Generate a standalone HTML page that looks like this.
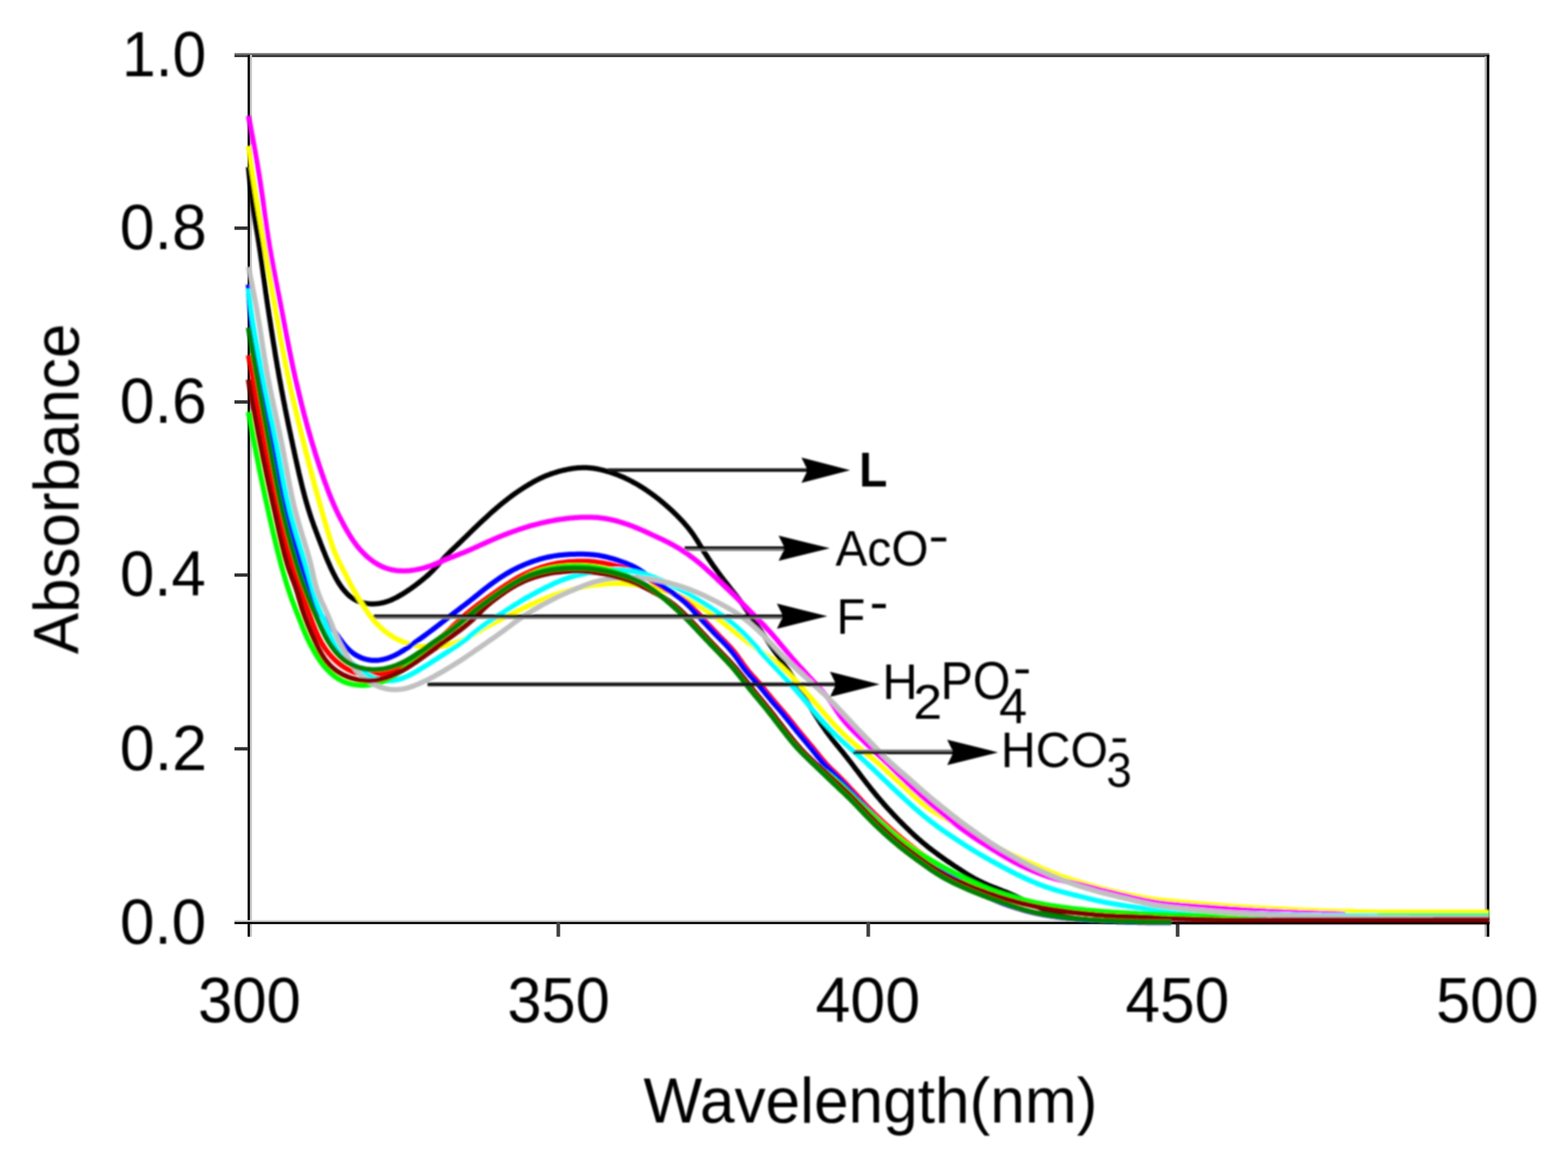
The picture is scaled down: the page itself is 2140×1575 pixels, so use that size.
<!DOCTYPE html>
<html lang="en"><head><meta charset="utf-8"><title>UV-vis absorbance spectra</title>
<style>
html,body{margin:0;padding:0;background:#fff;}
body{width:2140px;height:1575px;overflow:hidden;}
svg{display:block;}
text{font-family:"Liberation Sans",Arial,Helvetica,sans-serif;fill:#000;}
</style></head><body>
<svg width="2140" height="1575" viewBox="0 0 2140 1575" role="img" aria-label="UV-vis absorbance spectra of L with different anions">
<defs>
<filter id="soft" x="0" y="0" width="2140" height="1575" filterUnits="userSpaceOnUse"><feGaussianBlur stdDeviation="1.0"/></filter>
<filter id="soft2" x="0" y="0" width="2140" height="1575" filterUnits="userSpaceOnUse"><feGaussianBlur stdDeviation="0.55"/></filter>
</defs>
<rect width="2140" height="1575" fill="#fff"/>
<g id="axes" fill="none" stroke-linecap="butt" filter="url(#soft2)">
<line x1="320" y1="73.9" x2="2032.6" y2="73.9" stroke="#6e6e6e" stroke-width="3"/>
<line x1="320" y1="76.6" x2="2032.6" y2="76.6" stroke="#3a3a3a" stroke-width="3"/>
<line x1="342.4" y1="75" x2="342.4" y2="1278.5" stroke="#c8c8c8" stroke-width="3"/>
<line x1="339.5" y1="75" x2="339.5" y2="1278.5" stroke="#000" stroke-width="3.2"/>
<line x1="2027.7" y1="77" x2="2027.7" y2="1278.5" stroke="#b4b4b4" stroke-width="3"/>
<line x1="2030.9" y1="75" x2="2030.9" y2="1278.5" stroke="#000" stroke-width="3.4"/>
<line x1="320" y1="1257" x2="2032.6" y2="1257" stroke="#d0d0d0" stroke-width="2.6"/>
<line x1="320" y1="1259.7" x2="2032.6" y2="1259.7" stroke="#000" stroke-width="3"/>
<line x1="762" y1="1259" x2="762" y2="1278.5" stroke="#404040" stroke-width="5"/>
<line x1="1185" y1="1259" x2="1185" y2="1278.5" stroke="#404040" stroke-width="5"/>
<line x1="1607.2" y1="1259" x2="1607.2" y2="1278.5" stroke="#404040" stroke-width="5"/>
<line x1="320" y1="311.4" x2="339" y2="311.4" stroke="#303030" stroke-width="4.6"/>
<line x1="320" y1="548.6" x2="339" y2="548.6" stroke="#303030" stroke-width="4.6"/>
<line x1="320" y1="784.8" x2="339" y2="784.8" stroke="#303030" stroke-width="4.6"/>
<line x1="320" y1="1022" x2="339" y2="1022" stroke="#303030" stroke-width="4.6"/>
</g>
<g id="chart" filter="url(#soft)">
<g id="spectra" fill="none" stroke-width="7.0" stroke-linejoin="round" stroke-linecap="butt">
<path stroke="#000000" d="M339.0,228.0 L339.3,231.0 L339.6,234.0 L339.9,237.0 L340.2,239.9 L340.5,242.9 L340.9,245.9 L341.2,248.9 L341.5,251.9 L341.9,254.9 L342.2,257.8 L342.6,260.8 L342.9,263.8 L343.3,266.8 L343.7,269.7 L344.1,272.7 L344.5,275.7 L344.9,278.7 L345.3,281.6 L345.7,284.6 L346.1,287.6 L346.6,290.5 L347.0,293.5 L347.5,296.5 L347.9,299.4 L348.4,302.4 L348.9,305.4 L349.4,308.3 L349.9,311.3 L350.4,314.2 L350.9,317.2 L351.4,320.2 L351.9,323.1 L352.3,326.1 L352.8,329.0 L353.3,332.0 L353.7,335.0 L354.2,337.9 L354.6,340.9 L355.1,343.9 L355.5,346.8 L355.9,349.8 L356.3,352.8 L356.8,355.7 L357.2,358.7 L357.6,361.7 L358.0,364.7 L358.4,367.6 L358.8,370.6 L359.2,373.6 L359.6,376.5 L360.0,379.5 L360.5,382.5 L360.9,385.5 L361.3,388.4 L361.7,391.4 L362.1,394.4 L362.5,397.4 L362.9,400.3 L363.4,403.3 L363.8,406.3 L364.2,409.2 L364.6,412.2 L365.1,415.2 L365.5,418.1 L366.0,421.1 L366.4,424.1 L366.9,427.0 L367.3,430.0 L367.8,433.0 L368.2,435.9 L368.7,438.9 L369.1,441.9 L369.6,444.8 L370.0,447.8 L370.5,450.8 L371.0,453.7 L371.4,456.7 L371.9,459.7 L372.4,462.6 L372.8,465.6 L373.3,468.5 L373.8,471.5 L374.3,474.5 L374.8,477.4 L375.2,480.4 L375.7,483.3 L376.2,486.3 L376.7,489.3 L377.2,492.2 L377.7,495.2 L378.2,498.1 L378.7,501.1 L379.3,504.0 L379.8,507.0 L380.3,510.0 L380.8,512.9 L381.3,515.9 L381.9,518.8 L382.4,521.8 L383.0,524.7 L383.5,527.7 L384.0,530.6 L384.6,533.6 L385.2,536.5 L385.7,539.5 L386.3,542.4 L386.8,545.4 L387.4,548.3 L388.0,551.2 L388.6,554.2 L389.1,557.1 L389.7,560.1 L390.3,563.0 L390.9,566.0 L391.5,568.9 L392.1,571.8 L392.7,574.8 L393.3,577.7 L393.9,580.7 L394.5,583.6 L395.1,586.5 L395.8,589.5 L396.4,592.4 L397.0,595.3 L397.6,598.3 L398.3,601.2 L398.9,604.1 L399.5,607.1 L400.1,610.0 L400.8,612.9 L401.4,615.9 L402.0,618.8 L402.7,621.7 L403.3,624.7 L404.0,627.6 L404.6,630.6 L405.3,633.5 L405.9,636.4 L406.6,639.4 L407.3,642.3 L407.9,645.2 L408.6,648.1 L409.3,651.1 L410.0,654.0 L410.7,656.9 L411.4,659.8 L412.1,662.7 L412.8,665.6 L413.6,668.5 L414.3,671.5 L415.1,674.3 L415.8,677.2 L416.6,680.1 L417.4,683.0 L418.2,685.9 L419.1,688.8 L419.9,691.6 L420.8,694.5 L421.7,697.4 L422.6,700.2 L423.5,703.1 L424.4,705.9 L425.4,708.8 L426.4,711.6 L427.4,714.4 L428.4,717.3 L429.4,720.1 L430.5,722.9 L431.5,725.7 L432.6,728.5 L433.6,731.3 L434.7,734.1 L435.8,736.9 L436.9,739.7 L437.9,742.5 L439.0,745.3 L440.1,748.1 L441.2,750.9 L442.4,753.7 L443.5,756.5 L444.6,759.3 L445.8,762.1 L447.0,764.8 L448.1,767.6 L449.4,770.3 L450.6,773.1 L451.8,775.8 L453.1,778.5 L454.4,781.2 L455.8,783.9 L457.2,786.6 L458.6,789.3 L460.1,791.9 L461.6,794.5 L463.2,797.0 L464.9,799.5 L466.6,802.0 L468.5,804.4 L470.4,806.7 L472.4,808.9 L474.5,811.1 L476.7,813.1 L479.1,814.9 L481.5,816.7 L484.0,818.2 L486.6,819.6 L489.3,820.8 L492.1,821.8 L495.0,822.7 L497.9,823.3 L500.8,823.8 L503.8,824.1 L506.8,824.3 L509.8,824.3 L512.8,824.1 L515.8,823.8 L518.7,823.4 L521.7,822.8 L524.6,822.1 L527.5,821.2 L530.3,820.2 L533.1,819.2 L535.8,818.0 L538.6,816.7 L541.3,815.4 L543.9,813.9 L546.5,812.4 L549.1,810.9 L551.7,809.3 L554.2,807.7 L556.7,806.0 L559.2,804.3 L561.7,802.6 L564.1,800.8 L566.5,799.1 L568.9,797.3 L571.3,795.4 L573.7,793.6 L576.0,791.7 L578.4,789.8 L580.7,787.9 L582.9,786.0 L585.2,784.0 L587.3,781.9 L589.5,779.8 L591.6,777.7 L593.6,775.5 L595.6,773.3 L597.6,771.1 L599.6,768.8 L601.6,766.6 L603.6,764.3 L605.6,762.1 L607.6,759.9 L609.7,757.8 L611.8,755.6 L613.9,753.5 L616.1,751.4 L618.3,749.4 L620.4,747.3 L622.6,745.2 L624.8,743.1 L626.9,741.1 L629.1,739.0 L631.3,736.9 L633.4,734.8 L635.6,732.7 L637.7,730.6 L639.9,728.5 L642.0,726.4 L644.2,724.3 L646.3,722.2 L648.5,720.2 L650.6,718.1 L652.8,716.0 L655.0,713.9 L657.2,711.9 L659.4,709.8 L661.6,707.8 L663.8,705.8 L666.0,703.8 L668.2,701.7 L670.5,699.7 L672.7,697.7 L675.0,695.8 L677.2,693.8 L679.5,691.9 L681.8,689.9 L684.1,688.0 L686.4,686.1 L688.8,684.2 L691.1,682.4 L693.5,680.5 L695.9,678.7 L698.3,676.9 L700.7,675.2 L703.2,673.4 L705.7,671.7 L708.1,670.0 L710.6,668.4 L713.1,666.7 L715.7,665.1 L718.2,663.5 L720.8,661.9 L723.4,660.4 L725.9,658.9 L728.6,657.4 L731.2,655.9 L733.9,654.6 L736.5,653.2 L739.3,652.0 L742.0,650.7 L744.7,649.6 L747.5,648.5 L750.3,647.4 L753.2,646.4 L756.0,645.5 L758.9,644.6 L761.8,643.7 L764.7,642.9 L767.6,642.2 L770.5,641.5 L773.5,640.9 L776.4,640.3 L779.4,639.8 L782.3,639.3 L785.3,638.9 L788.3,638.6 L791.3,638.4 L794.3,638.3 L797.3,638.2 L800.3,638.3 L803.3,638.4 L806.2,638.7 L809.2,639.0 L812.2,639.5 L815.1,640.0 L818.0,640.6 L821.0,641.3 L823.9,642.0 L826.8,642.8 L829.7,643.7 L832.5,644.5 L835.4,645.5 L838.2,646.5 L841.1,647.5 L843.9,648.5 L846.7,649.7 L849.4,650.8 L852.2,652.0 L854.9,653.3 L857.6,654.6 L860.3,656.0 L862.9,657.4 L865.5,658.8 L868.2,660.3 L870.8,661.8 L873.3,663.4 L875.9,664.9 L878.4,666.5 L880.9,668.2 L883.4,669.9 L885.9,671.6 L888.4,673.3 L890.8,675.1 L893.2,676.8 L895.6,678.7 L898.0,680.5 L900.3,682.4 L902.6,684.3 L904.9,686.2 L907.2,688.2 L909.5,690.1 L911.7,692.1 L914.0,694.1 L916.2,696.2 L918.4,698.2 L920.5,700.3 L922.7,702.4 L924.8,704.5 L926.9,706.7 L929.0,708.8 L931.0,711.0 L933.1,713.2 L935.0,715.5 L937.0,717.8 L938.9,720.1 L940.8,722.4 L942.6,724.8 L944.4,727.2 L946.1,729.6 L947.8,732.1 L949.4,734.6 L951.1,737.1 L952.7,739.7 L954.2,742.2 L955.8,744.8 L957.4,747.3 L959.0,749.9 L960.5,752.5 L962.1,755.0 L963.8,757.5 L965.4,760.0 L967.0,762.5 L968.7,765.0 L970.4,767.5 L972.1,770.0 L973.8,772.4 L975.6,774.9 L977.3,777.3 L979.1,779.8 L980.8,782.2 L982.6,784.6 L984.4,787.0 L986.2,789.4 L988.0,791.8 L989.9,794.2 L991.7,796.5 L993.6,798.9 L995.4,801.2 L997.3,803.6 L999.2,805.9 L1001.1,808.3 L1002.9,810.6 L1004.8,813.0 L1006.6,815.3 L1008.4,817.7 L1010.2,820.1 L1012.0,822.6 L1013.7,825.0 L1015.4,827.5 L1017.1,829.9 L1018.8,832.4 L1020.5,834.9 L1022.2,837.4 L1023.8,839.9 L1025.5,842.4 L1027.2,844.8 L1028.9,847.3 L1030.6,849.8 L1032.3,852.2 L1034.0,854.7 L1035.8,857.2 L1037.5,859.6 L1039.2,862.1 L1040.9,864.6 L1042.6,867.0 L1044.3,869.5 L1045.9,872.0 L1047.6,874.5 L1049.3,877.0 L1050.9,879.5 L1052.6,882.0 L1054.3,884.5 L1056.0,886.9 L1057.7,889.4 L1059.4,891.9 L1061.1,894.3 L1062.9,896.7 L1064.6,899.2 L1066.4,901.6 L1068.2,904.0 L1069.9,906.5 L1071.7,908.9 L1073.4,911.4 L1075.1,913.8 L1076.8,916.3 L1078.4,918.8 L1080.0,921.3 L1081.6,923.9 L1083.2,926.4 L1084.8,929.0 L1086.3,931.6 L1087.8,934.2 L1089.3,936.7 L1090.8,939.3 L1092.4,941.9 L1093.9,944.5 L1095.4,947.1 L1096.9,949.7 L1098.4,952.3 L1099.9,954.9 L1101.5,957.5 L1103.0,960.0 L1104.6,962.6 L1106.1,965.2 L1107.7,967.7 L1109.3,970.3 L1110.9,972.8 L1112.5,975.4 L1114.1,977.9 L1115.7,980.4 L1117.3,982.9 L1119.0,985.5 L1120.6,988.0 L1122.3,990.4 L1124.0,992.9 L1125.7,995.4 L1127.4,997.8 L1129.2,1000.2 L1131.0,1002.6 L1132.8,1005.0 L1134.6,1007.4 L1136.5,1009.8 L1138.4,1012.1 L1140.2,1014.5 L1142.1,1016.8 L1144.0,1019.1 L1145.9,1021.4 L1147.8,1023.8 L1149.7,1026.1 L1151.6,1028.5 L1153.4,1030.8 L1155.3,1033.2 L1157.1,1035.5 L1159.0,1037.9 L1160.8,1040.2 L1162.7,1042.6 L1164.5,1045.0 L1166.3,1047.4 L1168.1,1049.8 L1170.0,1052.2 L1171.8,1054.5 L1173.6,1056.9 L1175.4,1059.3 L1177.2,1061.7 L1179.1,1064.1 L1180.9,1066.4 L1182.7,1068.8 L1184.6,1071.2 L1186.5,1073.5 L1188.3,1075.9 L1190.2,1078.2 L1192.1,1080.5 L1194.0,1082.9 L1195.9,1085.2 L1197.8,1087.5 L1199.8,1089.8 L1201.7,1092.1 L1203.7,1094.3 L1205.6,1096.6 L1207.6,1098.9 L1209.6,1101.1 L1211.6,1103.3 L1213.6,1105.5 L1215.7,1107.7 L1217.7,1109.9 L1219.8,1112.1 L1221.8,1114.3 L1223.9,1116.4 L1226.0,1118.6 L1228.1,1120.7 L1230.2,1122.9 L1232.4,1125.0 L1234.5,1127.1 L1236.6,1129.2 L1238.8,1131.3 L1240.9,1133.4 L1243.1,1135.5 L1245.3,1137.5 L1247.5,1139.6 L1249.7,1141.6 L1251.9,1143.6 L1254.2,1145.6 L1256.5,1147.5 L1258.7,1149.5 L1261.0,1151.4 L1263.4,1153.3 L1265.7,1155.2 L1268.0,1157.1 L1270.4,1158.9 L1272.8,1160.7 L1275.2,1162.5 L1277.6,1164.3 L1280.0,1166.1 L1282.4,1167.9 L1284.9,1169.6 L1287.3,1171.4 L1289.8,1173.1 L1292.2,1174.8 L1294.7,1176.5 L1297.2,1178.2 L1299.7,1179.9 L1302.2,1181.6 L1304.7,1183.2 L1307.2,1184.9 L1309.7,1186.5 L1312.2,1188.2 L1314.7,1189.8 L1317.2,1191.4 L1319.8,1193.0 L1322.3,1194.6 L1324.9,1196.1 L1327.5,1197.6 L1330.1,1199.0 L1332.8,1200.5 L1335.4,1201.8 L1338.1,1203.2 L1340.8,1204.5 L1343.5,1205.8 L1346.3,1207.0 L1349.0,1208.2 L1351.8,1209.3 L1354.6,1210.4 L1357.4,1211.5 L1360.2,1212.6 L1363.0,1213.7 L1365.8,1214.8 L1368.6,1215.9 L1371.4,1217.0 L1374.2,1218.1 L1376.9,1219.2 L1379.7,1220.4 L1382.4,1221.6 L1385.2,1222.8 L1387.9,1224.1 L1390.6,1225.4 L1393.3,1226.7 L1396.0,1228.0 L1398.6,1229.4 L1401.3,1230.7 L1404.0,1232.1 L1406.7,1233.4 L1409.4,1234.7 L1412.1,1236.0 L1414.9,1237.2 L1417.6,1238.4 L1420.4,1239.6 L1423.1,1240.8 L1425.9,1242.0 L1428.7,1243.1 L1431.5,1244.2 L1434.3,1245.2 L1437.1,1246.2 L1440.0,1247.1 L1442.8,1248.0 L1445.7,1248.9 L1448.6,1249.7 L1451.5,1250.4 L1454.4,1251.1 L1457.4,1251.7 L1460.3,1252.3 L1463.3,1252.8 L1466.2,1253.2 L1469.2,1253.7 L1472.2,1254.0 L1475.1,1254.4 L1478.1,1254.7 L1481.1,1254.9 L1484.1,1255.2 L1487.1,1255.4 L1490.1,1255.6 L1493.1,1255.8 L1496.1,1256.0 L1499.1,1256.1 L1502.1,1256.3 L1505.1,1256.5 L1508.1,1256.6 L1511.1,1256.7 L1514.1,1256.9 L1517.1,1257.0 L1520.1,1257.1 L1523.1,1257.2 L1526.1,1257.3 L1529.1,1257.5 L1532.1,1257.6 L1535.1,1257.7 L1538.1,1257.8 L1541.1,1257.9 L1544.1,1257.9 L1547.1,1258.0 L1550.1,1258.1 L1553.1,1258.2 L1556.1,1258.2 L1559.1,1258.3 L1562.2,1258.3 L1565.2,1258.4 L1568.2,1258.4 L1571.2,1258.5 L1574.2,1258.5 L1577.2,1258.5 L1580.1,1258.5 L1583.0,1258.5 L1585.7,1258.6 L1588.4,1258.6 L1591.0,1258.6 L1593.6,1258.6 L1596.1,1258.6 L1598.5,1258.6"/>
<path stroke="#ffff00" d="M339.0,199.0 L339.4,202.0 L339.8,204.9 L340.3,207.9 L340.7,210.9 L341.1,213.9 L341.6,216.8 L342.0,219.8 L342.4,222.8 L342.9,225.7 L343.3,228.7 L343.7,231.7 L344.2,234.6 L344.6,237.6 L345.1,240.6 L345.5,243.5 L346.0,246.5 L346.5,249.5 L346.9,252.4 L347.4,255.4 L347.9,258.3 L348.3,261.3 L348.8,264.3 L349.3,267.2 L349.8,270.2 L350.2,273.2 L350.7,276.1 L351.2,279.1 L351.7,282.0 L352.2,285.0 L352.7,287.9 L353.2,290.9 L353.7,293.9 L354.2,296.8 L354.8,299.8 L355.3,302.7 L355.8,305.7 L356.3,308.6 L356.8,311.6 L357.3,314.6 L357.8,317.5 L358.3,320.5 L358.9,323.4 L359.4,326.4 L359.9,329.3 L360.4,332.3 L360.9,335.2 L361.4,338.2 L361.9,341.2 L362.4,344.1 L362.9,347.1 L363.4,350.0 L363.9,353.0 L364.4,355.9 L364.9,358.9 L365.4,361.9 L365.9,364.8 L366.4,367.8 L367.0,370.7 L367.5,373.7 L368.0,376.6 L368.5,379.6 L369.0,382.6 L369.5,385.5 L370.0,388.5 L370.5,391.4 L371.0,394.4 L371.5,397.3 L372.1,400.3 L372.6,403.2 L373.1,406.2 L373.6,409.2 L374.1,412.1 L374.7,415.1 L375.2,418.0 L375.7,421.0 L376.2,423.9 L376.8,426.9 L377.3,429.8 L377.8,432.8 L378.4,435.7 L378.9,438.7 L379.4,441.6 L380.0,444.6 L380.5,447.6 L381.0,450.5 L381.6,453.5 L382.1,456.4 L382.6,459.4 L383.2,462.3 L383.7,465.3 L384.3,468.2 L384.8,471.2 L385.4,474.1 L385.9,477.1 L386.5,480.0 L387.0,483.0 L387.6,485.9 L388.2,488.9 L388.7,491.8 L389.3,494.7 L389.9,497.7 L390.5,500.6 L391.1,503.6 L391.7,506.5 L392.3,509.4 L392.9,512.4 L393.5,515.3 L394.1,518.2 L394.8,521.2 L395.4,524.1 L396.0,527.0 L396.7,530.0 L397.3,532.9 L398.0,535.8 L398.7,538.7 L399.3,541.7 L400.0,544.6 L400.7,547.5 L401.4,550.4 L402.0,553.4 L402.7,556.3 L403.4,559.2 L404.1,562.1 L404.8,565.0 L405.5,568.0 L406.2,570.9 L406.9,573.8 L407.6,576.7 L408.3,579.6 L409.0,582.5 L409.8,585.5 L410.5,588.4 L411.2,591.3 L411.9,594.2 L412.6,597.1 L413.4,600.0 L414.1,602.9 L414.8,605.8 L415.5,608.7 L416.3,611.7 L417.0,614.6 L417.7,617.5 L418.5,620.4 L419.2,623.3 L420.0,626.2 L420.7,629.1 L421.5,632.0 L422.2,634.9 L423.0,637.8 L423.7,640.7 L424.5,643.6 L425.3,646.5 L426.0,649.4 L426.8,652.3 L427.6,655.2 L428.4,658.1 L429.1,661.0 L429.9,663.9 L430.7,666.8 L431.5,669.7 L432.3,672.6 L433.1,675.5 L433.9,678.4 L434.7,681.3 L435.5,684.2 L436.3,687.1 L437.1,689.9 L437.9,692.8 L438.7,695.7 L439.5,698.6 L440.3,701.5 L441.2,704.4 L442.0,707.3 L442.8,710.1 L443.7,713.0 L444.5,715.9 L445.4,718.8 L446.2,721.7 L447.1,724.5 L448.0,727.4 L448.9,730.3 L449.7,733.2 L450.6,736.0 L451.6,738.9 L452.5,741.7 L453.4,744.6 L454.4,747.4 L455.5,750.2 L456.6,753.0 L457.7,755.8 L458.8,758.5 L460.1,761.3 L461.3,764.0 L462.7,766.6 L464.0,769.3 L465.4,772.0 L466.8,774.7 L468.1,777.3 L469.5,780.0 L470.9,782.7 L472.3,785.3 L473.6,788.0 L475.0,790.7 L476.4,793.3 L477.8,796.0 L479.1,798.7 L480.6,801.3 L482.0,803.9 L483.5,806.5 L485.0,809.1 L486.5,811.7 L488.0,814.3 L489.6,816.9 L491.2,819.4 L492.7,822.0 L494.3,824.6 L495.9,827.1 L497.5,829.6 L499.2,832.1 L500.9,834.6 L502.6,837.1 L504.4,839.5 L506.2,841.9 L508.0,844.2 L510.0,846.5 L511.9,848.8 L514.0,851.0 L516.1,853.1 L518.2,855.2 L520.4,857.3 L522.7,859.3 L525.0,861.2 L527.3,863.0 L529.8,864.8 L532.2,866.5 L534.7,868.2 L537.3,869.7 L539.9,871.2 L542.6,872.6 L545.3,873.9 L548.0,875.1 L550.8,876.2 L553.6,877.3 L556.4,878.2 L559.3,879.0 L562.2,879.8 L565.2,880.5 L568.1,881.0 L571.1,881.5 L574.1,881.9 L577.0,882.2 L580.0,882.5 L583.1,882.6 L586.1,882.7 L589.1,882.7 L592.1,882.7 L595.1,882.6 L598.1,882.4 L601.1,882.1 L604.0,881.7 L607.0,881.2 L609.9,880.7 L612.8,880.0 L615.7,879.2 L618.6,878.4 L621.4,877.4 L624.2,876.4 L627.0,875.3 L629.8,874.2 L632.5,872.9 L635.2,871.7 L637.9,870.4 L640.6,869.0 L643.3,867.6 L645.9,866.1 L648.5,864.6 L651.1,863.1 L653.7,861.6 L656.2,860.1 L658.8,858.5 L661.4,857.0 L664.0,855.5 L666.6,854.1 L669.3,852.6 L671.9,851.2 L674.6,849.8 L677.3,848.5 L679.9,847.1 L682.6,845.8 L685.3,844.4 L688.0,843.1 L690.7,841.7 L693.4,840.4 L696.0,839.0 L698.7,837.7 L701.4,836.4 L704.1,835.0 L706.8,833.7 L709.5,832.4 L712.2,831.1 L714.9,829.8 L717.6,828.5 L720.3,827.3 L723.1,826.0 L725.8,824.8 L728.5,823.6 L731.3,822.4 L734.0,821.2 L736.8,820.0 L739.6,818.8 L742.3,817.7 L745.1,816.6 L747.9,815.5 L750.7,814.4 L753.5,813.3 L756.3,812.3 L759.2,811.3 L762.0,810.4 L764.9,809.4 L767.7,808.5 L770.6,807.6 L773.5,806.8 L776.4,805.9 L779.2,805.1 L782.1,804.3 L785.0,803.6 L788.0,802.8 L790.9,802.1 L793.8,801.5 L796.7,800.9 L799.7,800.3 L802.6,799.8 L805.6,799.3 L808.6,798.8 L811.5,798.4 L814.5,798.1 L817.5,797.7 L820.5,797.4 L823.5,797.1 L826.5,796.9 L829.5,796.6 L832.4,796.5 L835.4,796.3 L838.4,796.2 L841.4,796.2 L844.4,796.2 L847.4,796.2 L850.4,796.4 L853.4,796.6 L856.4,796.8 L859.4,797.1 L862.4,797.4 L865.3,797.8 L868.3,798.2 L871.3,798.6 L874.3,799.0 L877.2,799.5 L880.2,800.0 L883.2,800.5 L886.1,801.0 L889.1,801.6 L892.0,802.2 L894.9,802.9 L897.8,803.6 L900.7,804.3 L903.6,805.1 L906.5,805.9 L909.4,806.8 L912.2,807.8 L915.1,808.7 L917.9,809.8 L920.7,810.8 L923.5,811.9 L926.3,813.0 L929.0,814.2 L931.8,815.4 L934.5,816.6 L937.2,817.9 L939.9,819.2 L942.6,820.6 L945.3,822.0 L947.9,823.4 L950.5,824.9 L953.1,826.4 L955.7,828.0 L958.2,829.5 L960.7,831.2 L963.2,832.8 L965.7,834.5 L968.2,836.2 L970.7,837.9 L973.1,839.7 L975.5,841.4 L977.9,843.2 L980.3,845.0 L982.7,846.8 L985.1,848.7 L987.5,850.5 L989.9,852.3 L992.2,854.2 L994.6,856.0 L996.9,857.9 L999.3,859.8 L1001.6,861.6 L1004.0,863.5 L1006.3,865.4 L1008.7,867.2 L1011.1,869.1 L1013.4,870.9 L1015.8,872.7 L1018.2,874.6 L1020.6,876.4 L1023.0,878.2 L1025.4,880.0 L1027.8,881.7 L1030.3,883.4 L1032.7,885.2 L1035.2,886.9 L1037.7,888.5 L1040.2,890.2 L1042.7,891.9 L1045.2,893.5 L1047.7,895.2 L1050.1,896.9 L1052.6,898.7 L1055.0,900.4 L1057.3,902.3 L1059.7,904.1 L1062.0,906.1 L1064.2,908.0 L1066.5,910.0 L1068.7,912.0 L1070.9,914.1 L1073.0,916.2 L1075.2,918.2 L1077.3,920.4 L1079.5,922.5 L1081.6,924.6 L1083.6,926.8 L1085.7,928.9 L1087.8,931.1 L1089.8,933.3 L1091.8,935.5 L1093.8,937.8 L1095.8,940.0 L1097.8,942.3 L1099.8,944.5 L1101.8,946.8 L1103.7,949.1 L1105.7,951.3 L1107.6,953.6 L1109.6,955.9 L1111.5,958.2 L1113.5,960.5 L1115.4,962.7 L1117.4,965.0 L1119.3,967.3 L1121.3,969.6 L1123.2,971.9 L1125.2,974.1 L1127.2,976.4 L1129.1,978.7 L1131.1,980.9 L1133.1,983.1 L1135.1,985.4 L1137.2,987.6 L1139.2,989.8 L1141.3,992.0 L1143.3,994.1 L1145.4,996.3 L1147.5,998.4 L1149.7,1000.5 L1151.8,1002.6 L1154.0,1004.7 L1156.2,1006.8 L1158.4,1008.8 L1160.6,1010.8 L1162.8,1012.8 L1165.1,1014.7 L1167.4,1016.7 L1169.7,1018.6 L1172.0,1020.5 L1174.4,1022.4 L1176.7,1024.2 L1179.1,1026.1 L1181.5,1027.9 L1183.8,1029.8 L1186.2,1031.6 L1188.6,1033.4 L1190.9,1035.3 L1193.3,1037.1 L1195.6,1039.0 L1197.9,1041.0 L1200.2,1042.9 L1202.5,1044.9 L1204.7,1046.9 L1206.9,1048.9 L1209.1,1050.9 L1211.3,1052.9 L1213.5,1055.0 L1215.7,1057.0 L1217.9,1059.1 L1220.1,1061.1 L1222.3,1063.1 L1224.6,1065.2 L1226.8,1067.2 L1229.0,1069.2 L1231.2,1071.2 L1233.4,1073.2 L1235.7,1075.3 L1237.9,1077.3 L1240.1,1079.3 L1242.3,1081.4 L1244.5,1083.4 L1246.7,1085.5 L1248.9,1087.6 L1251.1,1089.6 L1253.3,1091.6 L1255.5,1093.6 L1257.8,1095.6 L1260.1,1097.5 L1262.4,1099.4 L1264.7,1101.2 L1267.1,1103.0 L1269.6,1104.7 L1272.1,1106.3 L1274.6,1107.9 L1277.1,1109.4 L1279.7,1110.9 L1282.3,1112.4 L1285.0,1113.9 L1287.6,1115.3 L1290.3,1116.8 L1292.9,1118.2 L1295.5,1119.7 L1298.2,1121.2 L1300.8,1122.6 L1303.4,1124.2 L1306.0,1125.7 L1308.6,1127.2 L1311.1,1128.8 L1313.7,1130.3 L1316.3,1131.9 L1318.8,1133.5 L1321.4,1135.0 L1323.9,1136.6 L1326.5,1138.1 L1329.1,1139.7 L1331.7,1141.2 L1334.3,1142.7 L1336.9,1144.2 L1339.5,1145.6 L1342.1,1147.1 L1344.7,1148.5 L1347.4,1149.9 L1350.0,1151.3 L1352.7,1152.7 L1355.4,1154.0 L1358.1,1155.4 L1360.8,1156.7 L1363.5,1158.0 L1366.2,1159.3 L1368.9,1160.7 L1371.6,1162.0 L1374.3,1163.2 L1377.0,1164.5 L1379.7,1165.8 L1382.4,1167.1 L1385.2,1168.3 L1387.9,1169.6 L1390.6,1170.8 L1393.3,1172.1 L1396.1,1173.3 L1398.8,1174.5 L1401.5,1175.8 L1404.3,1177.0 L1407.0,1178.3 L1409.7,1179.5 L1412.5,1180.7 L1415.2,1182.0 L1417.9,1183.2 L1420.7,1184.4 L1423.4,1185.6 L1426.2,1186.9 L1428.9,1188.0 L1431.7,1189.2 L1434.4,1190.4 L1437.2,1191.5 L1440.0,1192.6 L1442.8,1193.7 L1445.6,1194.8 L1448.4,1195.8 L1451.2,1196.8 L1454.1,1197.8 L1456.9,1198.7 L1459.8,1199.6 L1462.7,1200.5 L1465.5,1201.4 L1468.4,1202.3 L1471.3,1203.1 L1474.1,1204.0 L1477.0,1204.8 L1479.9,1205.7 L1482.8,1206.5 L1485.7,1207.4 L1488.5,1208.2 L1491.4,1209.0 L1494.3,1209.9 L1497.2,1210.7 L1500.1,1211.4 L1503.0,1212.2 L1505.9,1213.0 L1508.8,1213.7 L1511.7,1214.4 L1514.6,1215.1 L1517.6,1215.8 L1520.5,1216.5 L1523.4,1217.2 L1526.3,1217.9 L1529.2,1218.6 L1532.2,1219.2 L1535.1,1219.8 L1538.0,1220.5 L1541.0,1221.1 L1543.9,1221.7 L1546.8,1222.3 L1549.8,1222.9 L1552.7,1223.5 L1555.7,1224.0 L1558.6,1224.6 L1561.6,1225.1 L1564.5,1225.6 L1567.5,1226.1 L1570.5,1226.6 L1573.4,1227.0 L1576.4,1227.4 L1579.4,1227.8 L1582.3,1228.2 L1585.3,1228.6 L1588.3,1228.9 L1591.3,1229.2 L1594.3,1229.5 L1597.3,1229.8 L1600.3,1230.1 L1603.2,1230.4 L1606.2,1230.6 L1609.2,1230.9 L1612.2,1231.2 L1615.2,1231.5 L1618.2,1231.7 L1621.2,1232.0 L1624.2,1232.3 L1627.1,1232.5 L1630.1,1232.8 L1633.1,1233.1 L1636.1,1233.3 L1639.1,1233.6 L1642.1,1233.8 L1645.1,1234.1 L1648.1,1234.3 L1651.1,1234.6 L1654.0,1234.8 L1657.0,1235.1 L1660.0,1235.3 L1663.0,1235.5 L1666.0,1235.8 L1669.0,1236.0 L1672.0,1236.2 L1675.0,1236.4 L1678.0,1236.6 L1681.0,1236.9 L1684.0,1237.1 L1687.0,1237.3 L1689.9,1237.5 L1692.9,1237.7 L1695.9,1237.8 L1698.9,1238.0 L1701.9,1238.2 L1704.9,1238.4 L1707.9,1238.6 L1710.9,1238.8 L1713.9,1238.9 L1716.9,1239.1 L1719.9,1239.3 L1722.9,1239.4 L1725.9,1239.6 L1728.9,1239.8 L1731.9,1239.9 L1734.9,1240.1 L1737.9,1240.2 L1740.9,1240.4 L1743.9,1240.5 L1746.9,1240.7 L1749.9,1240.8 L1752.9,1241.0 L1755.8,1241.1 L1758.8,1241.3 L1761.8,1241.4 L1764.8,1241.5 L1767.8,1241.7 L1770.8,1241.8 L1773.8,1241.9 L1776.8,1242.1 L1779.8,1242.2 L1782.8,1242.3 L1785.8,1242.5 L1788.8,1242.6 L1791.8,1242.7 L1794.8,1242.8 L1797.8,1242.9 L1800.8,1243.1 L1803.8,1243.2 L1806.8,1243.3 L1809.8,1243.3 L1812.8,1243.4 L1815.8,1243.5 L1818.8,1243.6 L1821.8,1243.7 L1824.8,1243.8 L1827.8,1243.8 L1830.8,1243.9 L1833.8,1244.0 L1836.8,1244.1 L1839.8,1244.1 L1842.8,1244.2 L1845.8,1244.3 L1848.8,1244.3 L1851.8,1244.4 L1854.8,1244.5 L1857.8,1244.5 L1860.8,1244.6 L1863.8,1244.6 L1866.8,1244.7 L1869.8,1244.7 L1872.8,1244.8 L1875.8,1244.8 L1878.8,1244.9 L1881.8,1244.9 L1884.8,1244.9 L1887.8,1244.9 L1890.8,1245.0 L1893.8,1245.0 L1896.8,1245.0 L1899.8,1245.0 L1902.8,1245.0 L1905.8,1245.0 L1908.8,1245.0 L1911.8,1245.0 L1914.8,1245.0 L1917.8,1245.0 L1920.8,1245.0 L1923.8,1245.0 L1926.8,1245.0 L1929.8,1245.0 L1932.8,1245.0 L1935.8,1245.0 L1938.8,1245.0 L1941.8,1245.0 L1944.8,1245.0 L1947.8,1245.0 L1950.8,1245.0 L1953.8,1245.0 L1956.8,1245.0 L1959.8,1245.0 L1962.8,1245.0 L1965.8,1245.0 L1968.8,1245.0 L1971.8,1245.0 L1974.8,1245.0 L1977.8,1245.0 L1980.8,1245.0 L1983.8,1245.0 L1986.8,1245.0 L1989.8,1245.0 L1992.8,1245.0 L1995.9,1245.0 L1998.9,1245.0 L2001.9,1245.0 L2004.9,1245.0 L2007.9,1245.0 L2010.9,1245.0 L2013.8,1245.0 L2016.7,1245.0 L2019.5,1245.0 L2022.2,1245.0 L2024.9,1245.0 L2027.5,1245.0 L2030.0,1245.0 L2032.5,1245.0"/>
<path stroke="#ff00ff" d="M339.0,158.0 L339.6,160.9 L340.1,163.9 L340.7,166.8 L341.3,169.8 L341.9,172.7 L342.4,175.7 L343.0,178.6 L343.5,181.6 L344.1,184.5 L344.6,187.5 L345.2,190.4 L345.7,193.4 L346.3,196.3 L346.8,199.3 L347.3,202.2 L347.9,205.2 L348.4,208.1 L348.9,211.1 L349.4,214.0 L349.9,217.0 L350.4,220.0 L351.0,222.9 L351.5,225.9 L351.9,228.8 L352.4,231.8 L352.9,234.8 L353.4,237.7 L353.9,240.7 L354.3,243.6 L354.8,246.6 L355.3,249.6 L355.7,252.5 L356.1,255.5 L356.6,258.5 L357.0,261.4 L357.4,264.4 L357.9,267.4 L358.3,270.3 L358.7,273.3 L359.1,276.3 L359.5,279.3 L359.9,282.2 L360.3,285.2 L360.7,288.2 L361.1,291.2 L361.5,294.1 L361.9,297.1 L362.3,300.1 L362.8,303.1 L363.2,306.0 L363.6,309.0 L364.0,312.0 L364.5,314.9 L364.9,317.9 L365.4,320.9 L365.8,323.8 L366.3,326.8 L366.8,329.7 L367.3,332.7 L367.7,335.7 L368.2,338.6 L368.8,341.6 L369.3,344.5 L369.8,347.5 L370.3,350.4 L370.9,353.4 L371.4,356.3 L371.9,359.3 L372.5,362.2 L373.0,365.2 L373.6,368.1 L374.2,371.1 L374.7,374.0 L375.3,377.0 L375.9,379.9 L376.4,382.9 L377.0,385.8 L377.6,388.8 L378.2,391.7 L378.7,394.6 L379.3,397.6 L379.9,400.5 L380.5,403.5 L381.1,406.4 L381.6,409.4 L382.2,412.3 L382.8,415.3 L383.4,418.2 L383.9,421.1 L384.5,424.1 L385.1,427.0 L385.6,430.0 L386.2,432.9 L386.8,435.9 L387.3,438.8 L387.9,441.8 L388.5,444.7 L389.0,447.7 L389.6,450.6 L390.2,453.6 L390.7,456.5 L391.3,459.5 L391.9,462.4 L392.4,465.3 L393.0,468.3 L393.6,471.2 L394.2,474.2 L394.8,477.1 L395.4,480.1 L396.0,483.0 L396.6,485.9 L397.2,488.9 L397.8,491.8 L398.4,494.8 L399.0,497.7 L399.6,500.6 L400.3,503.5 L400.9,506.5 L401.6,509.4 L402.2,512.3 L402.9,515.3 L403.5,518.2 L404.2,521.1 L404.9,524.0 L405.6,526.9 L406.3,529.9 L407.0,532.8 L407.7,535.7 L408.4,538.6 L409.1,541.5 L409.8,544.5 L410.5,547.4 L411.2,550.3 L412.0,553.2 L412.7,556.1 L413.4,559.0 L414.2,561.9 L414.9,564.8 L415.7,567.8 L416.5,570.7 L417.3,573.6 L418.0,576.4 L418.8,579.3 L419.6,582.2 L420.4,585.1 L421.2,588.0 L422.1,590.9 L422.9,593.8 L423.7,596.6 L424.5,599.5 L425.4,602.4 L426.2,605.3 L427.1,608.1 L428.0,611.0 L428.9,613.9 L429.7,616.7 L430.6,619.6 L431.5,622.5 L432.4,625.3 L433.4,628.2 L434.3,631.1 L435.2,633.9 L436.2,636.8 L437.1,639.6 L438.1,642.5 L439.0,645.3 L440.0,648.2 L441.0,651.0 L442.0,653.9 L443.0,656.7 L444.0,659.5 L445.1,662.3 L446.1,665.1 L447.2,668.0 L448.2,670.8 L449.3,673.6 L450.4,676.4 L451.5,679.1 L452.6,681.9 L453.8,684.7 L455.0,687.4 L456.2,690.2 L457.4,692.9 L458.6,695.6 L459.9,698.3 L461.2,701.0 L462.5,703.7 L463.9,706.4 L465.3,709.1 L466.7,711.7 L468.1,714.4 L469.5,717.0 L471.0,719.7 L472.4,722.3 L473.9,724.9 L475.5,727.5 L477.0,730.0 L478.6,732.6 L480.2,735.1 L481.9,737.6 L483.6,740.1 L485.4,742.5 L487.2,744.9 L489.1,747.2 L491.0,749.5 L493.0,751.8 L495.1,753.9 L497.2,756.1 L499.4,758.1 L501.6,760.2 L503.9,762.1 L506.3,764.0 L508.7,765.8 L511.1,767.5 L513.7,769.1 L516.3,770.6 L518.9,772.0 L521.6,773.3 L524.3,774.5 L527.1,775.5 L530.0,776.4 L532.9,777.2 L535.8,777.8 L538.7,778.3 L541.7,778.7 L544.7,779.0 L547.7,779.1 L550.7,779.2 L553.7,779.1 L556.7,778.9 L559.7,778.7 L562.7,778.3 L565.6,777.9 L568.6,777.4 L571.5,776.8 L574.5,776.1 L577.4,775.4 L580.3,774.6 L583.1,773.7 L586.0,772.8 L588.8,771.8 L591.6,770.7 L594.4,769.6 L597.1,768.5 L599.9,767.3 L602.7,766.1 L605.4,765.0 L608.2,763.8 L611.0,762.7 L613.8,761.6 L616.6,760.5 L619.4,759.4 L622.1,758.3 L624.9,757.2 L627.7,756.1 L630.5,755.0 L633.3,753.9 L636.1,752.7 L638.8,751.5 L641.6,750.4 L644.3,749.2 L647.1,747.9 L649.8,746.7 L652.5,745.5 L655.3,744.2 L658.0,743.0 L660.7,741.7 L663.5,740.5 L666.2,739.3 L668.9,738.1 L671.7,736.8 L674.4,735.7 L677.2,734.5 L680.0,733.3 L682.7,732.2 L685.5,731.1 L688.3,729.9 L691.1,728.9 L693.9,727.8 L696.7,726.7 L699.5,725.7 L702.4,724.7 L705.2,723.7 L708.0,722.7 L710.9,721.8 L713.7,720.9 L716.6,720.0 L719.5,719.1 L722.4,718.2 L725.2,717.4 L728.1,716.6 L731.0,715.8 L733.9,715.1 L736.8,714.3 L739.8,713.6 L742.7,713.0 L745.6,712.3 L748.5,711.7 L751.5,711.1 L754.4,710.6 L757.4,710.0 L760.4,709.5 L763.3,709.0 L766.3,708.6 L769.3,708.2 L772.2,707.8 L775.2,707.4 L778.2,707.1 L781.2,706.9 L784.2,706.6 L787.2,706.4 L790.2,706.2 L793.2,706.1 L796.2,706.0 L799.2,705.9 L802.2,705.9 L805.2,705.9 L808.2,706.0 L811.2,706.2 L814.2,706.3 L817.1,706.6 L820.1,706.9 L823.1,707.3 L826.1,707.7 L829.0,708.3 L831.9,708.8 L834.9,709.5 L837.8,710.2 L840.7,710.9 L843.6,711.7 L846.5,712.5 L849.4,713.4 L852.2,714.3 L855.1,715.3 L857.9,716.2 L860.7,717.3 L863.6,718.3 L866.3,719.4 L869.1,720.5 L871.9,721.7 L874.6,722.9 L877.4,724.1 L880.1,725.3 L882.9,726.6 L885.6,727.8 L888.3,729.1 L891.0,730.4 L893.8,731.6 L896.5,732.9 L899.2,734.2 L901.9,735.4 L904.6,736.7 L907.3,738.0 L910.0,739.4 L912.7,740.7 L915.3,742.1 L918.0,743.5 L920.6,745.0 L923.2,746.5 L925.8,748.0 L928.4,749.6 L930.9,751.2 L933.4,752.8 L935.9,754.5 L938.4,756.2 L940.8,757.9 L943.2,759.7 L945.7,761.5 L948.0,763.3 L950.4,765.1 L952.7,767.0 L955.0,768.9 L957.3,770.9 L959.6,772.8 L961.9,774.8 L964.1,776.8 L966.3,778.8 L968.5,780.8 L970.7,782.9 L972.9,784.9 L975.1,787.0 L977.3,789.0 L979.5,791.1 L981.7,793.2 L983.9,795.2 L986.0,797.3 L988.2,799.4 L990.4,801.4 L992.6,803.5 L994.7,805.6 L996.9,807.6 L999.1,809.7 L1001.2,811.8 L1003.4,813.9 L1005.5,816.0 L1007.6,818.1 L1009.8,820.2 L1011.9,822.3 L1014.0,824.5 L1016.1,826.6 L1018.3,828.7 L1020.4,830.8 L1022.5,833.0 L1024.6,835.1 L1026.7,837.2 L1028.8,839.4 L1030.9,841.5 L1033.0,843.6 L1035.1,845.8 L1037.2,847.9 L1039.3,850.1 L1041.4,852.2 L1043.5,854.4 L1045.5,856.6 L1047.6,858.8 L1049.6,861.0 L1051.6,863.2 L1053.6,865.5 L1055.6,867.7 L1057.5,870.0 L1059.5,872.3 L1061.4,874.6 L1063.3,876.9 L1065.2,879.2 L1067.1,881.5 L1069.0,883.8 L1071.0,886.1 L1072.9,888.5 L1074.8,890.8 L1076.7,893.0 L1078.7,895.3 L1080.6,897.6 L1082.6,899.8 L1084.6,902.1 L1086.6,904.3 L1088.6,906.6 L1090.6,908.8 L1092.6,911.0 L1094.7,913.2 L1096.7,915.4 L1098.7,917.6 L1100.8,919.9 L1102.8,922.1 L1104.8,924.3 L1106.9,926.5 L1108.9,928.7 L1111.0,930.9 L1113.0,933.1 L1115.0,935.3 L1117.1,937.5 L1119.1,939.7 L1121.1,942.0 L1123.1,944.2 L1125.0,946.5 L1127.0,948.8 L1128.8,951.1 L1130.7,953.5 L1132.5,955.9 L1134.2,958.3 L1135.9,960.8 L1137.6,963.2 L1139.2,965.7 L1140.9,968.3 L1142.5,970.8 L1144.2,973.2 L1145.9,975.7 L1147.7,978.1 L1149.5,980.5 L1151.3,982.8 L1153.2,985.2 L1155.2,987.4 L1157.2,989.6 L1159.2,991.8 L1161.3,994.0 L1163.4,996.2 L1165.5,998.3 L1167.6,1000.4 L1169.8,1002.5 L1171.9,1004.6 L1174.1,1006.7 L1176.2,1008.8 L1178.4,1010.9 L1180.5,1013.0 L1182.7,1015.1 L1184.9,1017.1 L1187.0,1019.2 L1189.2,1021.3 L1191.4,1023.4 L1193.6,1025.4 L1195.8,1027.5 L1197.9,1029.5 L1200.1,1031.6 L1202.3,1033.7 L1204.5,1035.7 L1206.6,1037.8 L1208.8,1039.9 L1211.0,1042.0 L1213.1,1044.0 L1215.3,1046.1 L1217.4,1048.2 L1219.5,1050.3 L1221.7,1052.5 L1223.8,1054.6 L1226.0,1056.7 L1228.1,1058.8 L1230.2,1060.9 L1232.4,1062.9 L1234.6,1065.0 L1236.7,1067.1 L1238.9,1069.2 L1241.1,1071.3 L1243.2,1073.3 L1245.4,1075.4 L1247.6,1077.4 L1249.8,1079.4 L1252.1,1081.4 L1254.3,1083.5 L1256.5,1085.5 L1258.8,1087.4 L1261.0,1089.4 L1263.3,1091.4 L1265.6,1093.3 L1267.9,1095.3 L1270.2,1097.2 L1272.4,1099.2 L1274.7,1101.1 L1277.1,1103.0 L1279.4,1104.9 L1281.7,1106.8 L1284.0,1108.7 L1286.3,1110.6 L1288.7,1112.5 L1291.0,1114.4 L1293.3,1116.3 L1295.7,1118.1 L1298.0,1120.0 L1300.4,1121.8 L1302.8,1123.7 L1305.2,1125.5 L1307.6,1127.3 L1310.0,1129.1 L1312.4,1130.9 L1314.8,1132.7 L1317.2,1134.4 L1319.7,1136.2 L1322.1,1137.9 L1324.6,1139.6 L1327.0,1141.3 L1329.5,1143.0 L1332.0,1144.7 L1334.5,1146.3 L1337.0,1148.0 L1339.5,1149.6 L1342.1,1151.2 L1344.6,1152.8 L1347.1,1154.4 L1349.7,1156.0 L1352.2,1157.6 L1354.8,1159.2 L1357.3,1160.8 L1359.9,1162.3 L1362.5,1163.9 L1365.0,1165.4 L1367.6,1167.0 L1370.2,1168.5 L1372.8,1170.0 L1375.4,1171.5 L1378.0,1173.0 L1380.6,1174.5 L1383.2,1175.9 L1385.9,1177.3 L1388.6,1178.7 L1391.2,1180.0 L1393.9,1181.3 L1396.6,1182.6 L1399.4,1183.9 L1402.1,1185.1 L1404.8,1186.3 L1407.6,1187.5 L1410.4,1188.7 L1413.1,1189.8 L1415.9,1191.0 L1418.7,1192.1 L1421.5,1193.1 L1424.3,1194.2 L1427.2,1195.2 L1430.0,1196.2 L1432.8,1197.1 L1435.7,1198.0 L1438.6,1198.9 L1441.4,1199.7 L1444.3,1200.5 L1447.2,1201.2 L1450.1,1201.9 L1453.1,1202.6 L1456.0,1203.3 L1458.9,1203.9 L1461.9,1204.5 L1464.8,1205.2 L1467.7,1205.8 L1470.6,1206.5 L1473.6,1207.2 L1476.5,1207.9 L1479.4,1208.6 L1482.3,1209.4 L1485.2,1210.1 L1488.1,1210.9 L1491.0,1211.6 L1493.9,1212.4 L1496.8,1213.1 L1499.7,1213.9 L1502.6,1214.6 L1505.6,1215.3 L1508.5,1216.0 L1511.4,1216.8 L1514.3,1217.5 L1517.2,1218.2 L1520.1,1218.9 L1523.0,1219.6 L1526.0,1220.3 L1528.9,1221.1 L1531.8,1221.8 L1534.7,1222.5 L1537.6,1223.2 L1540.5,1223.9 L1543.4,1224.6 L1546.4,1225.3 L1549.3,1226.0 L1552.2,1226.7 L1555.1,1227.3 L1558.1,1227.9 L1561.0,1228.6 L1563.9,1229.1 L1566.9,1229.7 L1569.8,1230.3 L1572.8,1230.8 L1575.8,1231.3 L1578.7,1231.7 L1581.7,1232.2 L1584.7,1232.6 L1587.6,1233.0 L1590.6,1233.3 L1593.6,1233.7 L1596.6,1234.0 L1599.6,1234.3 L1602.5,1234.6 L1605.5,1234.8 L1608.5,1235.1 L1611.5,1235.4 L1614.5,1235.6 L1617.5,1235.9 L1620.5,1236.1 L1623.5,1236.3 L1626.5,1236.6 L1629.5,1236.8 L1632.4,1237.0 L1635.4,1237.2 L1638.4,1237.5 L1641.4,1237.7 L1644.4,1237.9 L1647.4,1238.1 L1650.4,1238.3 L1653.4,1238.6 L1656.4,1238.8 L1659.4,1239.0 L1662.4,1239.2 L1665.4,1239.4 L1668.4,1239.6 L1671.3,1239.8 L1674.3,1240.0 L1677.3,1240.3 L1680.3,1240.4 L1683.3,1240.6 L1686.3,1240.8 L1689.3,1241.0 L1692.3,1241.2 L1695.3,1241.4 L1698.3,1241.6 L1701.3,1241.8 L1704.3,1241.9 L1707.3,1242.1 L1710.3,1242.3 L1713.3,1242.4 L1716.3,1242.6 L1719.3,1242.8 L1722.2,1242.9 L1725.2,1243.1 L1728.2,1243.3 L1731.2,1243.4 L1734.2,1243.6 L1737.2,1243.7 L1740.2,1243.9 L1743.2,1244.0 L1746.2,1244.2 L1749.2,1244.3 L1752.2,1244.4 L1755.2,1244.6 L1758.2,1244.7 L1761.2,1244.9 L1764.2,1245.0 L1767.2,1245.1 L1770.2,1245.2 L1773.2,1245.4 L1776.2,1245.5 L1779.2,1245.6 L1782.2,1245.7 L1785.2,1245.8 L1788.2,1245.9 L1791.2,1246.0 L1794.2,1246.2 L1797.2,1246.3 L1800.2,1246.4 L1803.2,1246.5 L1806.2,1246.6 L1809.2,1246.7 L1812.2,1246.8 L1815.2,1246.9 L1818.2,1247.0 L1821.1,1247.1 L1824.1,1247.2 L1827.1,1247.3 L1830.1,1247.4 L1833.0,1247.5 L1836.0,1247.6"/>
<path stroke="#ff0000" d="M339.0,484.9 L339.6,487.8 L340.2,490.8 L340.8,493.7 L341.4,496.7 L342.0,499.6 L342.5,502.5 L343.1,505.5 L343.7,508.4 L344.3,511.4 L344.8,514.3 L345.4,517.3 L345.9,520.2 L346.5,523.2 L347.0,526.1 L347.6,529.1 L348.1,532.0 L348.6,535.0 L349.2,537.9 L349.7,540.9 L350.2,543.8 L350.7,546.8 L351.3,549.7 L351.8,552.7 L352.3,555.7 L352.8,558.6 L353.4,561.6 L353.9,564.5 L354.4,567.5 L354.9,570.4 L355.5,573.4 L356.0,576.3 L356.5,579.3 L357.1,582.2 L357.6,585.2 L358.1,588.1 L358.7,591.1 L359.2,594.0 L359.8,597.0 L360.3,599.9 L360.9,602.9 L361.4,605.8 L362.0,608.8 L362.6,611.7 L363.1,614.7 L363.7,617.6 L364.2,620.6 L364.8,623.5 L365.4,626.5 L365.9,629.4 L366.5,632.4 L367.1,635.3 L367.6,638.3 L368.2,641.2 L368.8,644.2 L369.3,647.1 L369.9,650.0 L370.5,653.0 L371.1,655.9 L371.7,658.9 L372.3,661.8 L372.9,664.7 L373.5,667.7 L374.1,670.6 L374.7,673.6 L375.4,676.5 L376.0,679.4 L376.6,682.3 L377.3,685.3 L377.9,688.2 L378.6,691.1 L379.2,694.1 L379.9,697.0 L380.5,699.9 L381.2,702.8 L381.9,705.8 L382.5,708.7 L383.2,711.6 L383.9,714.6 L384.6,717.5 L385.3,720.4 L385.9,723.3 L386.6,726.3 L387.4,729.2 L388.1,732.1 L388.8,735.0 L389.5,737.9 L390.3,740.8 L391.0,743.8 L391.7,746.7 L392.5,749.6 L393.3,752.5 L394.1,755.4 L394.8,758.3 L395.7,761.1 L396.5,764.0 L397.3,766.9 L398.2,769.8 L399.0,772.6 L399.9,775.5 L400.8,778.3 L401.8,781.2 L402.7,784.0 L403.7,786.9 L404.7,789.7 L405.7,792.5 L406.8,795.3 L407.8,798.1 L408.8,800.9 L409.9,803.8 L410.9,806.6 L411.9,809.4 L412.9,812.2 L413.9,815.1 L414.9,817.9 L415.9,820.7 L416.9,823.5 L417.9,826.4 L418.9,829.2 L420.0,832.0 L421.0,834.9 L422.0,837.7 L423.0,840.5 L424.0,843.3 L425.1,846.1 L426.1,849.0 L427.2,851.8 L428.3,854.6 L429.4,857.4 L430.6,860.1 L431.7,862.9 L433.0,865.6 L434.2,868.4 L435.5,871.1 L436.9,873.7 L438.3,876.4 L439.8,879.0 L441.4,881.5 L443.0,884.0 L444.7,886.5 L446.5,888.9 L448.4,891.3 L450.3,893.6 L452.3,895.8 L454.4,898.0 L456.5,900.1 L458.7,902.2 L461.0,904.1 L463.3,906.1 L465.7,907.9 L468.2,909.6 L470.7,911.3 L473.3,912.8 L475.9,914.2 L478.6,915.5 L481.3,916.6 L484.1,917.6 L487.0,918.5 L489.9,919.2 L492.8,919.7 L495.8,920.2 L498.7,920.5 L501.7,920.6 L504.7,920.7 L507.8,920.7 L510.8,920.6 L513.7,920.3 L516.7,920.0 L519.7,919.5 L522.7,919.0 L525.6,918.3 L528.5,917.6 L531.4,916.7 L534.2,915.8 L537.1,914.8 L539.8,913.7 L542.6,912.5 L545.3,911.3 L548.0,909.9 L550.7,908.5 L553.3,907.1 L555.9,905.6 L558.5,904.0 L561.0,902.4 L563.6,900.8 L566.1,899.1 L568.5,897.4 L571.0,895.7 L573.4,893.9 L575.9,892.2 L578.2,890.3 L580.6,888.5 L583.0,886.6 L585.3,884.8 L587.6,882.8 L589.9,880.9 L592.2,878.9 L594.4,877.0 L596.7,875.0 L598.9,873.0 L601.1,870.9 L603.3,868.9 L605.5,866.8 L607.7,864.8 L609.9,862.7 L612.0,860.6 L614.2,858.6 L616.4,856.5 L618.5,854.4 L620.7,852.3 L622.9,850.3 L625.1,848.2 L627.3,846.2 L629.5,844.2 L631.7,842.2 L634.0,840.2 L636.2,838.2 L638.5,836.3 L640.8,834.3 L643.2,832.4 L645.5,830.6 L647.9,828.7 L650.2,826.9 L652.6,825.1 L655.1,823.3 L657.5,821.6 L659.9,819.8 L662.4,818.1 L664.8,816.3 L667.2,814.6 L669.7,812.9 L672.1,811.1 L674.6,809.4 L677.1,807.7 L679.5,805.9 L682.0,804.2 L684.5,802.5 L687.0,800.8 L689.4,799.2 L691.9,797.5 L694.5,795.9 L697.0,794.3 L699.5,792.7 L702.1,791.1 L704.7,789.6 L707.3,788.1 L709.9,786.7 L712.6,785.3 L715.3,783.9 L718.0,782.6 L720.7,781.4 L723.4,780.2 L726.2,779.0 L729.0,777.9 L731.8,776.9 L734.6,775.8 L737.5,774.9 L740.3,773.9 L743.2,773.0 L746.1,772.2 L749.0,771.4 L751.9,770.7 L754.8,770.0 L757.8,769.4 L760.7,768.8 L763.7,768.3 L766.6,767.9 L769.6,767.5 L772.6,767.1 L775.6,766.8 L778.6,766.6 L781.6,766.4 L784.6,766.2 L787.6,766.1 L790.6,766.0 L793.6,766.0 L796.6,766.0 L799.6,766.0 L802.6,766.1 L805.5,766.3 L808.5,766.5 L811.5,766.8 L814.5,767.2 L817.5,767.6 L820.4,768.0 L823.4,768.5 L826.3,769.1 L829.3,769.7 L832.2,770.3 L835.2,770.9 L838.1,771.6 L841.0,772.3 L844.0,773.0 L846.9,773.7 L849.8,774.5 L852.7,775.3 L855.6,776.1 L858.4,777.0 L861.2,778.0 L864.0,779.0 L866.7,780.2 L869.5,781.4 L872.1,782.7 L874.8,784.1 L877.4,785.5 L880.0,787.0 L882.6,788.6 L885.2,790.1 L887.7,791.7 L890.3,793.3 L892.9,794.9 L895.4,796.4 L898.0,798.0 L900.6,799.5 L903.2,801.0 L905.8,802.6 L908.4,804.1 L911.0,805.6 L913.7,807.0 L916.3,808.5 L918.9,810.0 L921.5,811.5 L924.1,813.0 L926.7,814.6 L929.2,816.2 L931.7,817.8 L934.1,819.5 L936.5,821.3 L938.8,823.1 L941.0,825.1 L943.2,827.1 L945.4,829.1 L947.5,831.3 L949.5,833.4 L951.6,835.6 L953.6,837.9 L955.6,840.1 L957.6,842.4 L959.7,844.6 L961.7,846.8 L963.7,849.1 L965.8,851.3 L967.8,853.5 L969.9,855.7 L972.0,857.8 L974.0,860.0 L976.1,862.2 L978.2,864.3 L980.3,866.5 L982.4,868.6 L984.5,870.8 L986.6,872.9 L988.7,875.0 L990.8,877.2 L992.9,879.4 L995.0,881.5 L997.0,883.7 L999.0,886.0 L1000.9,888.3 L1002.8,890.6 L1004.7,892.9 L1006.5,895.3 L1008.2,897.7 L1010.0,900.2 L1011.7,902.6 L1013.4,905.1 L1015.1,907.5 L1016.9,909.9 L1018.7,912.3 L1020.5,914.7 L1022.4,917.0 L1024.4,919.3 L1026.3,921.5 L1028.3,923.7 L1030.4,925.9 L1032.4,928.2 L1034.4,930.4 L1036.4,932.6 L1038.3,934.9 L1040.2,937.2 L1042.2,939.5 L1044.0,941.8 L1045.9,944.2 L1047.8,946.5 L1049.7,948.8 L1051.6,951.1 L1053.5,953.5 L1055.5,955.7 L1057.4,958.0 L1059.4,960.3 L1061.3,962.6 L1063.3,964.8 L1065.3,967.1 L1067.2,969.4 L1069.2,971.6 L1071.1,973.9 L1073.0,976.2 L1075.0,978.5 L1076.9,980.9 L1078.7,983.2 L1080.6,985.5 L1082.5,987.9 L1084.3,990.2 L1086.2,992.6 L1088.1,994.9 L1090.0,997.3 L1091.9,999.6 L1093.8,1001.9 L1095.7,1004.2 L1097.6,1006.5 L1099.5,1008.8 L1101.5,1011.1 L1103.4,1013.4 L1105.3,1015.7 L1107.3,1018.0 L1109.2,1020.3 L1111.1,1022.7 L1112.9,1025.0 L1114.8,1027.3 L1116.7,1029.7 L1118.5,1032.0 L1120.4,1034.3 L1122.3,1036.6 L1124.3,1038.9 L1126.3,1041.1 L1128.3,1043.3 L1130.4,1045.5 L1132.5,1047.6 L1134.6,1049.7 L1136.8,1051.8 L1138.9,1053.9 L1141.1,1055.9 L1143.2,1058.0 L1145.4,1060.1 L1147.5,1062.3 L1149.6,1064.4 L1151.7,1066.6 L1153.8,1068.7 L1155.8,1070.9 L1157.9,1073.1 L1159.9,1075.3 L1162.0,1077.5 L1164.0,1079.7 L1166.0,1081.9 L1168.1,1084.1 L1170.1,1086.3 L1172.1,1088.5 L1174.2,1090.7 L1176.2,1092.9 L1178.3,1095.1 L1180.3,1097.3 L1182.4,1099.5 L1184.5,1101.6 L1186.5,1103.8 L1188.7,1105.9 L1190.8,1108.0 L1192.9,1110.2 L1195.1,1112.3 L1197.2,1114.3 L1199.4,1116.4 L1201.6,1118.5 L1203.7,1120.5 L1205.9,1122.6 L1208.1,1124.6 L1210.4,1126.6 L1212.6,1128.6 L1214.8,1130.7 L1217.1,1132.7 L1219.3,1134.6 L1221.6,1136.6 L1223.8,1138.6 L1226.1,1140.5 L1228.4,1142.5 L1230.7,1144.4 L1233.0,1146.3 L1235.3,1148.2 L1237.7,1150.1 L1240.0,1152.0 L1242.4,1153.8 L1244.7,1155.7 L1247.1,1157.5 L1249.5,1159.4 L1251.8,1161.2 L1254.2,1163.0 L1256.6,1164.8 L1259.0,1166.6 L1261.4,1168.4 L1263.8,1170.2 L1266.3,1171.9 L1268.7,1173.7 L1271.2,1175.4 L1273.7,1177.1 L1276.2,1178.7 L1278.7,1180.3 L1281.2,1181.9 L1283.8,1183.5 L1286.4,1185.1 L1288.9,1186.6 L1291.5,1188.1 L1294.1,1189.6 L1296.7,1191.2 L1299.3,1192.7 L1301.8,1194.2 L1304.4,1195.8 L1307.0,1197.4 L1309.5,1198.9 L1312.1,1200.5 L1314.6,1202.1 L1317.1,1203.7 L1319.6,1205.4 L1322.2,1207.0 L1324.7,1208.6 L1327.2,1210.3 L1329.7,1211.9 L1332.2,1213.6 L1334.7,1215.2 L1337.3,1216.8 L1339.8,1218.4 L1342.4,1220.0 L1345.0,1221.5 L1347.6,1223.0 L1350.2,1224.5 L1352.8,1225.9 L1355.5,1227.2 L1358.2,1228.5 L1360.9,1229.7 L1363.7,1230.9 L1366.4,1232.0 L1369.2,1233.1 L1372.1,1234.1 L1374.9,1235.1 L1377.7,1236.1 L1380.6,1237.0 L1383.4,1238.0 L1386.3,1238.9 L1389.2,1239.8 L1392.1,1240.6 L1394.9,1241.5 L1397.8,1242.3 L1400.7,1243.1 L1403.6,1243.9 L1406.5,1244.6 L1409.4,1245.3 L1412.4,1246.0 L1415.3,1246.6 L1418.2,1247.2 L1421.2,1247.8 L1424.1,1248.3 L1427.1,1248.9 L1430.0,1249.4 L1433.0,1249.9 L1436.0,1250.3 L1438.9,1250.8 L1441.9,1251.2 L1444.9,1251.6 L1447.8,1252.0 L1450.8,1252.4 L1453.8,1252.8 L1456.8,1253.1 L1459.8,1253.4 L1462.7,1253.7 L1465.7,1254.0 L1468.7,1254.3 L1471.7,1254.6 L1474.7,1254.9 L1477.7,1255.1 L1480.7,1255.3 L1483.7,1255.6 L1486.7,1255.8 L1489.7,1256.0 L1492.6,1256.2 L1495.6,1256.4 L1498.6,1256.6 L1501.6,1256.7 L1504.6,1256.9 L1507.6,1257.1 L1510.6,1257.2 L1513.6,1257.3 L1516.6,1257.5 L1519.6,1257.6 L1522.6,1257.7 L1525.6,1257.8 L1528.6,1257.9 L1531.6,1258.0 L1534.6,1258.2 L1537.6,1258.2 L1540.6,1258.3 L1543.6,1258.4 L1546.6,1258.5 L1549.6,1258.6 L1552.6,1258.7 L1555.6,1258.7 L1558.7,1258.8 L1561.7,1258.8 L1564.7,1258.9 L1567.7,1258.9 L1570.7,1258.9 L1573.7,1258.9 L1576.7,1259.0 L1579.6,1259.0 L1582.5,1259.0 L1585.3,1259.0 L1588.1,1259.0 L1590.8,1259.0 L1593.4,1259.0 L1596.0,1259.0 L1598.5,1259.0"/>
<path stroke="#0000ff" d="M339.0,388.3 L339.1,391.3 L339.3,394.3 L339.4,397.3 L339.6,400.3 L339.8,403.3 L339.9,406.3 L340.1,409.3 L340.3,412.3 L340.5,415.3 L340.8,418.2 L341.0,421.2 L341.3,424.2 L341.6,427.2 L341.9,430.2 L342.2,433.1 L342.6,436.1 L343.0,439.1 L343.4,442.1 L343.8,445.0 L344.2,448.0 L344.6,451.0 L345.1,453.9 L345.6,456.9 L346.1,459.9 L346.6,462.8 L347.1,465.8 L347.6,468.7 L348.1,471.7 L348.6,474.7 L349.2,477.6 L349.7,480.6 L350.2,483.5 L350.8,486.5 L351.3,489.4 L351.9,492.4 L352.4,495.4 L352.9,498.3 L353.4,501.3 L354.0,504.2 L354.5,507.2 L355.0,510.1 L355.5,513.1 L356.1,516.1 L356.6,519.0 L357.1,522.0 L357.6,524.9 L358.1,527.9 L358.7,530.8 L359.2,533.8 L359.7,536.7 L360.3,539.7 L360.8,542.6 L361.4,545.6 L361.9,548.5 L362.5,551.5 L363.0,554.4 L363.6,557.4 L364.1,560.3 L364.7,563.3 L365.3,566.2 L365.8,569.2 L366.4,572.1 L367.0,575.1 L367.5,578.0 L368.1,580.9 L368.7,583.9 L369.2,586.8 L369.8,589.8 L370.3,592.7 L370.9,595.7 L371.5,598.6 L372.0,601.6 L372.6,604.5 L373.1,607.5 L373.7,610.4 L374.2,613.4 L374.8,616.3 L375.3,619.3 L375.9,622.2 L376.4,625.2 L377.0,628.1 L377.5,631.1 L378.0,634.0 L378.6,637.0 L379.1,640.0 L379.7,642.9 L380.2,645.9 L380.8,648.8 L381.4,651.8 L381.9,654.7 L382.5,657.6 L383.1,660.6 L383.6,663.5 L384.2,666.5 L384.8,669.4 L385.4,672.3 L386.1,675.3 L386.7,678.2 L387.3,681.1 L388.0,684.1 L388.6,687.0 L389.3,689.9 L390.0,692.8 L390.7,695.7 L391.4,698.7 L392.1,701.6 L392.8,704.5 L393.5,707.4 L394.3,710.3 L395.0,713.2 L395.8,716.1 L396.5,719.0 L397.3,721.9 L398.1,724.8 L398.9,727.7 L399.7,730.6 L400.5,733.5 L401.3,736.4 L402.2,739.2 L403.0,742.1 L403.8,745.0 L404.7,747.9 L405.5,750.8 L406.4,753.7 L407.3,756.5 L408.2,759.4 L409.0,762.3 L409.9,765.1 L410.8,768.0 L411.7,770.9 L412.6,773.7 L413.6,776.6 L414.5,779.4 L415.5,782.3 L416.4,785.1 L417.4,787.9 L418.4,790.8 L419.3,793.6 L420.3,796.5 L421.3,799.3 L422.3,802.1 L423.2,805.0 L424.2,807.8 L425.2,810.7 L426.2,813.5 L427.2,816.4 L428.2,819.2 L429.3,822.0 L430.4,824.7 L431.6,827.4 L432.9,830.1 L434.3,832.7 L435.8,835.3 L437.4,837.7 L439.1,840.2 L440.9,842.6 L442.8,844.9 L444.7,847.2 L446.6,849.5 L448.6,851.8 L450.5,854.2 L452.4,856.5 L454.2,858.9 L456.1,861.2 L457.9,863.7 L459.6,866.1 L461.4,868.5 L463.1,871.0 L464.9,873.4 L466.7,875.9 L468.5,878.2 L470.4,880.6 L472.4,882.8 L474.5,885.0 L476.6,887.1 L478.9,889.1 L481.2,891.0 L483.6,892.7 L486.2,894.3 L488.8,895.7 L491.5,897.0 L494.2,898.2 L497.0,899.1 L499.9,899.9 L502.8,900.5 L505.8,901.0 L508.7,901.2 L511.7,901.3 L514.7,901.2 L517.6,900.9 L520.6,900.5 L523.5,899.9 L526.4,899.1 L529.3,898.3 L532.1,897.2 L534.9,896.1 L537.6,894.9 L540.3,893.6 L543.0,892.2 L545.6,890.7 L548.2,889.1 L550.8,887.6 L553.3,885.9 L555.8,884.3 L558.3,882.6 L560.7,880.8 L563.2,879.1 L565.7,877.4 L568.1,875.6 L570.5,873.9 L573.0,872.1 L575.4,870.4 L577.8,868.6 L580.3,866.8 L582.7,865.0 L585.1,863.3 L587.5,861.5 L589.9,859.7 L592.3,857.9 L594.7,856.0 L597.1,854.2 L599.4,852.4 L601.8,850.6 L604.2,848.7 L606.5,846.9 L608.9,845.0 L611.2,843.2 L613.6,841.3 L616.0,839.5 L618.3,837.6 L620.7,835.8 L623.1,834.0 L625.5,832.2 L627.9,830.4 L630.2,828.6 L632.6,826.8 L635.0,825.0 L637.4,823.1 L639.8,821.3 L642.1,819.4 L644.5,817.5 L646.8,815.7 L649.1,813.8 L651.5,811.9 L653.8,810.0 L656.1,808.1 L658.5,806.3 L660.8,804.4 L663.2,802.5 L665.6,800.7 L668.0,798.9 L670.4,797.1 L672.8,795.3 L675.2,793.6 L677.7,791.8 L680.2,790.1 L682.6,788.4 L685.2,786.8 L687.7,785.2 L690.2,783.6 L692.8,782.1 L695.4,780.6 L698.0,779.1 L700.7,777.7 L703.4,776.3 L706.0,775.0 L708.8,773.7 L711.5,772.5 L714.2,771.3 L717.0,770.1 L719.8,769.0 L722.6,767.9 L725.4,766.9 L728.2,765.9 L731.1,765.0 L734.0,764.1 L736.8,763.2 L739.7,762.4 L742.6,761.6 L745.6,760.9 L748.5,760.3 L751.4,759.7 L754.4,759.1 L757.3,758.6 L760.3,758.2 L763.3,757.8 L766.3,757.5 L769.2,757.2 L772.2,757.0 L775.2,756.8 L778.2,756.6 L781.2,756.5 L784.2,756.4 L787.2,756.3 L790.2,756.3 L793.3,756.3 L796.3,756.3 L799.3,756.4 L802.2,756.5 L805.2,756.7 L808.2,756.9 L811.2,757.2 L814.2,757.6 L817.1,758.0 L820.1,758.6 L823.0,759.2 L826.0,759.8 L828.9,760.5 L831.8,761.3 L834.7,762.1 L837.6,762.9 L840.4,763.8 L843.3,764.7 L846.2,765.7 L849.0,766.7 L851.8,767.7 L854.6,768.8 L857.4,769.9 L860.2,771.1 L862.9,772.3 L865.6,773.7 L868.2,775.1 L870.8,776.6 L873.3,778.1 L875.8,779.8 L878.3,781.4 L880.7,783.2 L883.2,785.0 L885.6,786.7 L888.0,788.5 L890.4,790.3 L892.8,792.1 L895.2,793.8 L897.7,795.6 L900.2,797.3 L902.7,798.9 L905.2,800.6 L907.7,802.2 L910.2,803.9 L912.7,805.5 L915.2,807.2 L917.7,808.8 L920.2,810.6 L922.6,812.3 L925.0,814.1 L927.4,815.9 L929.7,817.8 L932.0,819.7 L934.3,821.7 L936.5,823.7 L938.7,825.7 L940.8,827.8 L942.9,829.9 L945.0,832.1 L947.0,834.3 L949.1,836.5 L951.1,838.7 L953.2,840.9 L955.2,843.1 L957.2,845.3 L959.3,847.6 L961.3,849.8 L963.4,851.9 L965.4,854.1 L967.5,856.3 L969.6,858.5 L971.7,860.6 L973.7,862.8 L975.8,865.0 L977.9,867.1 L980.0,869.3 L982.1,871.4 L984.3,873.5 L986.4,875.7 L988.5,877.8 L990.5,880.0 L992.6,882.2 L994.6,884.4 L996.6,886.7 L998.5,888.9 L1000.4,891.3 L1002.2,893.6 L1004.0,896.0 L1005.8,898.4 L1007.5,900.9 L1009.2,903.3 L1010.9,905.8 L1012.7,908.2 L1014.4,910.6 L1016.2,913.0 L1018.1,915.4 L1020.0,917.7 L1022.0,919.9 L1023.9,922.2 L1025.9,924.4 L1028.0,926.6 L1030.0,928.8 L1032.0,931.1 L1033.9,933.3 L1035.9,935.6 L1037.8,937.9 L1039.7,940.2 L1041.6,942.5 L1043.5,944.9 L1045.4,947.2 L1047.3,949.5 L1049.2,951.8 L1051.1,954.1 L1053.0,956.4 L1055.0,958.7 L1056.9,961.0 L1058.9,963.2 L1060.9,965.5 L1062.9,967.8 L1064.8,970.0 L1066.8,972.3 L1068.7,974.6 L1070.6,976.9 L1072.5,979.2 L1074.4,981.6 L1076.3,983.9 L1078.2,986.2 L1080.0,988.6 L1081.9,990.9 L1083.8,993.3 L1085.6,995.6 L1087.5,998.0 L1089.4,1000.3 L1091.3,1002.6 L1093.2,1004.9 L1095.2,1007.2 L1097.1,1009.5 L1099.0,1011.8 L1101.0,1014.1 L1102.9,1016.4 L1104.8,1018.7 L1106.7,1021.0 L1108.6,1023.4 L1110.5,1025.7 L1112.4,1028.0 L1114.2,1030.4 L1116.1,1032.7 L1118.0,1035.0 L1119.9,1037.3 L1121.8,1039.6 L1123.8,1041.8 L1125.8,1044.0 L1127.9,1046.2 L1130.0,1048.3 L1132.2,1050.4 L1134.3,1052.4 L1136.5,1054.5 L1138.7,1056.6 L1140.8,1058.7 L1143.0,1060.8 L1145.1,1062.9 L1147.2,1065.1 L1149.3,1067.3 L1151.3,1069.4 L1153.4,1071.6 L1155.4,1073.8 L1157.4,1076.0 L1159.5,1078.2 L1161.5,1080.5 L1163.5,1082.7 L1165.5,1084.9 L1167.6,1087.1 L1169.6,1089.3 L1171.6,1091.5 L1173.7,1093.7 L1175.7,1095.9 L1177.8,1098.1 L1179.8,1100.3 L1181.9,1102.5 L1184.0,1104.6 L1186.0,1106.8 L1188.2,1108.9 L1190.3,1111.0 L1192.4,1113.2 L1194.5,1115.3 L1196.7,1117.3 L1198.9,1119.4 L1201.0,1121.5 L1203.2,1123.5 L1205.4,1125.6 L1207.6,1127.6 L1209.8,1129.7 L1212.1,1131.7 L1214.3,1133.7 L1216.5,1135.7 L1218.8,1137.7 L1221.0,1139.7 L1223.3,1141.6 L1225.6,1143.6 L1227.9,1145.5 L1230.2,1147.4 L1232.5,1149.3 L1234.8,1151.2 L1237.1,1153.1 L1239.5,1155.0 L1241.8,1156.8 L1244.2,1158.7 L1246.6,1160.5 L1249.0,1162.3 L1251.4,1164.1 L1253.8,1165.9 L1256.2,1167.7 L1258.6,1169.5 L1261.0,1171.3 L1263.5,1173.0 L1265.9,1174.8 L1268.4,1176.5 L1270.8,1178.2 L1273.3,1179.9 L1275.8,1181.6 L1278.3,1183.2 L1280.8,1184.9 L1283.3,1186.5 L1285.8,1188.2 L1288.3,1189.8 L1290.9,1191.4 L1293.4,1193.0 L1296.0,1194.6 L1298.5,1196.1 L1301.1,1197.7 L1303.6,1199.3 L1306.2,1200.8 L1308.8,1202.4 L1311.3,1203.9 L1313.9,1205.5 L1316.5,1207.0 L1319.1,1208.5 L1321.7,1210.0 L1324.3,1211.5 L1326.9,1213.0 L1329.5,1214.4 L1332.2,1215.9 L1334.8,1217.3 L1337.5,1218.7 L1340.1,1220.1 L1342.8,1221.5 L1345.5,1222.8 L1348.2,1224.1 L1350.9,1225.4 L1353.6,1226.7 L1356.3,1227.9 L1359.1,1229.1 L1361.9,1230.2 L1364.6,1231.3 L1367.4,1232.4 L1370.3,1233.4 L1373.1,1234.4 L1375.9,1235.4 L1378.8,1236.4 L1381.6,1237.3 L1384.5,1238.2 L1387.3,1239.2 L1390.2,1240.0 L1393.1,1240.9 L1396.0,1241.8 L1398.8,1242.6 L1401.7,1243.4 L1404.6,1244.1 L1407.5,1244.9 L1410.5,1245.5 L1413.4,1246.2 L1416.3,1246.8 L1419.3,1247.4 L1422.2,1248.0 L1425.2,1248.5 L1428.1,1249.1 L1431.1,1249.6 L1434.0,1250.0 L1437.0,1250.5 L1440.0,1250.9 L1442.9,1251.4 L1445.9,1251.8 L1448.9,1252.2 L1451.9,1252.5 L1454.8,1252.9 L1457.8,1253.2 L1460.8,1253.5 L1463.8,1253.8 L1466.8,1254.1 L1469.8,1254.4 L1472.8,1254.7 L1475.7,1254.9 L1478.7,1255.2 L1481.7,1255.4 L1484.7,1255.7 L1487.7,1255.9 L1490.7,1256.1 L1493.7,1256.3 L1496.7,1256.5 L1499.7,1256.6 L1502.7,1256.8 L1505.7,1257.0 L1508.7,1257.1 L1511.7,1257.3 L1514.7,1257.4 L1517.7,1257.5 L1520.7,1257.6 L1523.7,1257.8 L1526.7,1257.9 L1529.7,1258.0 L1532.6,1258.1 L1535.6,1258.2 L1538.6,1258.3 L1541.6,1258.4 L1544.6,1258.5 L1547.6,1258.5 L1550.6,1258.6 L1553.6,1258.7 L1556.6,1258.7 L1559.6,1258.8 L1562.6,1258.8 L1565.6,1258.9 L1568.6,1258.9 L1571.6,1258.9 L1574.6,1259.0 L1577.6,1259.0 L1580.6,1259.0 L1583.6,1259.0 L1586.6,1259.0 L1589.6,1259.0 L1592.6,1259.0 L1595.5,1259.0 L1598.5,1259.0"/>
<path stroke="#00ffff" d="M339.0,394.0 L339.3,397.0 L339.7,400.0 L340.0,402.9 L340.4,405.9 L340.7,408.9 L341.1,411.9 L341.5,414.9 L341.8,417.8 L342.2,420.8 L342.7,423.8 L343.1,426.7 L343.5,429.7 L343.9,432.7 L344.4,435.6 L344.9,438.6 L345.3,441.6 L345.8,444.5 L346.3,447.5 L346.8,450.4 L347.3,453.4 L347.8,456.4 L348.3,459.3 L348.9,462.3 L349.4,465.2 L349.9,468.2 L350.5,471.1 L351.0,474.1 L351.6,477.0 L352.1,480.0 L352.7,482.9 L353.2,485.9 L353.8,488.8 L354.3,491.8 L354.9,494.7 L355.4,497.7 L356.0,500.6 L356.6,503.6 L357.1,506.5 L357.7,509.5 L358.3,512.4 L358.8,515.4 L359.4,518.3 L360.0,521.2 L360.6,524.2 L361.2,527.1 L361.7,530.1 L362.3,533.0 L362.9,535.9 L363.5,538.9 L364.2,541.8 L364.8,544.8 L365.4,547.7 L366.0,550.6 L366.6,553.6 L367.2,556.5 L367.8,559.4 L368.5,562.4 L369.1,565.3 L369.7,568.2 L370.3,571.2 L370.9,574.1 L371.6,577.1 L372.2,580.0 L372.8,582.9 L373.4,585.9 L374.0,588.8 L374.6,591.7 L375.2,594.7 L375.8,597.6 L376.4,600.6 L377.0,603.5 L377.6,606.4 L378.2,609.4 L378.7,612.3 L379.3,615.3 L379.9,618.2 L380.4,621.2 L381.0,624.1 L381.5,627.1 L382.1,630.0 L382.6,633.0 L383.2,635.9 L383.7,638.9 L384.3,641.9 L384.8,644.8 L385.4,647.8 L385.9,650.7 L386.5,653.7 L387.1,656.6 L387.6,659.5 L388.2,662.5 L388.8,665.4 L389.4,668.4 L390.0,671.3 L390.6,674.2 L391.2,677.2 L391.9,680.1 L392.5,683.0 L393.2,685.9 L393.9,688.9 L394.5,691.8 L395.2,694.7 L396.0,697.6 L396.7,700.5 L397.4,703.4 L398.2,706.3 L399.0,709.2 L399.8,712.1 L400.6,715.0 L401.4,717.9 L402.2,720.7 L403.0,723.6 L403.8,726.5 L404.7,729.4 L405.5,732.3 L406.4,735.1 L407.3,738.0 L408.1,740.9 L409.0,743.8 L409.9,746.6 L410.7,749.5 L411.6,752.4 L412.5,755.3 L413.4,758.1 L414.2,761.0 L415.1,763.9 L416.0,766.8 L416.8,769.6 L417.7,772.5 L418.5,775.4 L419.4,778.3 L420.2,781.2 L421.1,784.0 L421.9,786.9 L422.7,789.8 L423.5,792.7 L424.4,795.6 L425.2,798.5 L426.0,801.4 L426.8,804.3 L427.6,807.1 L428.5,810.0 L429.3,812.9 L430.2,815.8 L431.1,818.6 L432.0,821.5 L433.0,824.3 L434.0,827.1 L435.1,829.9 L436.2,832.7 L437.4,835.5 L438.5,838.2 L439.7,841.0 L440.9,843.7 L442.1,846.5 L443.2,849.3 L444.4,852.1 L445.5,854.9 L446.7,857.6 L447.8,860.4 L449.0,863.1 L450.2,865.8 L451.5,868.5 L452.9,871.1 L454.4,873.7 L455.9,876.2 L457.6,878.6 L459.4,881.0 L461.2,883.4 L463.1,885.7 L465.0,888.1 L467.0,890.4 L468.9,892.7 L470.9,895.0 L472.9,897.2 L475.0,899.5 L477.0,901.7 L479.1,903.8 L481.3,905.9 L483.5,907.9 L485.7,909.9 L488.1,911.8 L490.5,913.6 L492.9,915.3 L495.4,917.0 L498.0,918.6 L500.6,920.1 L503.3,921.5 L506.0,922.9 L508.7,924.2 L511.5,925.3 L514.3,926.4 L517.2,927.2 L520.1,928.0 L523.0,928.5 L525.9,928.9 L528.8,929.1 L531.8,929.1 L534.8,928.9 L537.7,928.6 L540.6,928.1 L543.5,927.4 L546.4,926.6 L549.2,925.6 L552.1,924.6 L554.8,923.4 L557.6,922.1 L560.3,920.8 L562.9,919.4 L565.6,918.0 L568.2,916.5 L570.8,914.9 L573.4,913.4 L575.9,911.8 L578.5,910.3 L581.1,908.7 L583.6,907.1 L586.2,905.5 L588.7,903.9 L591.2,902.3 L593.8,900.7 L596.3,899.1 L598.8,897.4 L601.3,895.8 L603.8,894.2 L606.4,892.5 L608.9,890.9 L611.4,889.3 L613.9,887.7 L616.4,886.0 L618.9,884.4 L621.4,882.7 L623.9,881.1 L626.4,879.3 L628.8,877.6 L631.3,875.8 L633.7,874.1 L636.1,872.2 L638.4,870.4 L640.8,868.6 L643.2,866.7 L645.5,864.9 L647.9,863.0 L650.2,861.2 L652.6,859.3 L655.0,857.5 L657.4,855.7 L659.8,853.9 L662.2,852.1 L664.7,850.4 L667.1,848.7 L669.6,847.0 L672.1,845.3 L674.6,843.7 L677.1,842.1 L679.6,840.4 L682.2,838.8 L684.7,837.2 L687.2,835.6 L689.7,834.0 L692.3,832.3 L694.8,830.7 L697.3,829.1 L699.8,827.4 L702.3,825.8 L704.9,824.2 L707.4,822.6 L710.0,821.0 L712.5,819.5 L715.1,817.9 L717.7,816.4 L720.3,814.9 L722.9,813.5 L725.5,812.0 L728.2,810.6 L730.8,809.1 L733.5,807.7 L736.1,806.3 L738.8,805.0 L741.5,803.6 L744.1,802.2 L746.8,800.9 L749.5,799.6 L752.2,798.3 L754.9,797.0 L757.7,795.7 L760.4,794.5 L763.2,793.4 L766.0,792.2 L768.8,791.1 L771.6,790.1 L774.4,789.1 L777.2,788.2 L780.1,787.3 L783.0,786.5 L785.9,785.7 L788.8,784.9 L791.7,784.2 L794.6,783.6 L797.6,783.0 L800.5,782.4 L803.5,781.8 L806.4,781.3 L809.4,780.8 L812.4,780.3 L815.3,779.8 L818.3,779.4 L821.3,779.0 L824.3,778.6 L827.2,778.3 L830.2,778.0 L833.2,777.8 L836.2,777.7 L839.2,777.6 L842.2,777.6 L845.2,777.6 L848.2,777.8 L851.2,778.0 L854.1,778.3 L857.1,778.7 L860.1,779.2 L863.0,779.7 L866.0,780.3 L868.9,780.9 L871.8,781.6 L874.8,782.3 L877.7,783.1 L880.5,783.9 L883.4,784.8 L886.3,785.7 L889.1,786.7 L891.9,787.7 L894.7,788.8 L897.5,789.9 L900.3,791.0 L903.1,792.2 L905.8,793.4 L908.6,794.6 L911.3,795.9 L914.0,797.2 L916.7,798.5 L919.4,799.8 L922.1,801.2 L924.7,802.6 L927.4,804.0 L930.0,805.4 L932.7,806.8 L935.3,808.3 L937.9,809.8 L940.5,811.3 L943.1,812.8 L945.7,814.3 L948.2,815.9 L950.8,817.4 L953.4,819.0 L955.9,820.6 L958.4,822.2 L961.0,823.8 L963.5,825.4 L966.0,827.0 L968.6,828.6 L971.1,830.3 L973.6,831.9 L976.1,833.6 L978.6,835.3 L981.0,837.0 L983.5,838.7 L985.9,840.4 L988.4,842.2 L990.8,844.0 L993.2,845.8 L995.6,847.6 L997.9,849.5 L1000.2,851.4 L1002.5,853.3 L1004.8,855.3 L1007.0,857.2 L1009.3,859.3 L1011.4,861.3 L1013.6,863.4 L1015.8,865.5 L1017.9,867.6 L1020.0,869.8 L1022.1,871.9 L1024.1,874.1 L1026.2,876.3 L1028.2,878.5 L1030.2,880.7 L1032.2,883.0 L1034.2,885.2 L1036.2,887.4 L1038.2,889.7 L1040.3,891.9 L1042.3,894.1 L1044.3,896.3 L1046.3,898.5 L1048.4,900.7 L1050.4,902.9 L1052.5,905.1 L1054.5,907.3 L1056.6,909.5 L1058.7,911.6 L1060.7,913.8 L1062.8,916.0 L1064.8,918.2 L1066.9,920.4 L1068.9,922.6 L1071.0,924.8 L1073.0,927.0 L1075.0,929.2 L1077.0,931.4 L1079.0,933.7 L1081.0,935.9 L1083.0,938.1 L1085.0,940.4 L1087.0,942.6 L1089.0,944.9 L1090.9,947.2 L1092.9,949.4 L1094.8,951.7 L1096.8,954.0 L1098.7,956.3 L1100.7,958.6 L1102.6,960.9 L1104.5,963.2 L1106.5,965.5 L1108.4,967.8 L1110.4,970.0 L1112.3,972.3 L1114.3,974.6 L1116.2,976.9 L1118.2,979.1 L1120.2,981.4 L1122.2,983.6 L1124.2,985.8 L1126.2,988.0 L1128.3,990.2 L1130.3,992.4 L1132.4,994.6 L1134.5,996.7 L1136.6,998.9 L1138.7,1001.0 L1140.9,1003.1 L1143.0,1005.2 L1145.2,1007.2 L1147.4,1009.3 L1149.6,1011.3 L1151.8,1013.3 L1154.0,1015.3 L1156.3,1017.4 L1158.5,1019.4 L1160.7,1021.4 L1163.0,1023.4 L1165.2,1025.4 L1167.4,1027.4 L1169.7,1029.4 L1171.9,1031.4 L1174.1,1033.4 L1176.3,1035.4 L1178.6,1037.5 L1180.8,1039.5 L1183.0,1041.5 L1185.2,1043.6 L1187.3,1045.6 L1189.5,1047.7 L1191.7,1049.7 L1193.9,1051.8 L1196.0,1053.9 L1198.2,1056.0 L1200.4,1058.0 L1202.5,1060.1 L1204.7,1062.2 L1206.8,1064.3 L1209.0,1066.4 L1211.2,1068.4 L1213.4,1070.5 L1215.5,1072.6 L1217.7,1074.6 L1219.9,1076.7 L1222.1,1078.7 L1224.3,1080.8 L1226.5,1082.8 L1228.7,1084.9 L1230.9,1086.9 L1233.1,1089.0 L1235.3,1091.0 L1237.5,1093.0 L1239.7,1095.0 L1241.9,1097.1 L1244.2,1099.1 L1246.4,1101.1 L1248.6,1103.1 L1250.9,1105.0 L1253.2,1107.0 L1255.4,1109.0 L1257.7,1110.9 L1260.0,1112.8 L1262.3,1114.7 L1264.7,1116.6 L1267.0,1118.5 L1269.4,1120.3 L1271.7,1122.2 L1274.1,1124.0 L1276.5,1125.8 L1278.9,1127.6 L1281.3,1129.4 L1283.8,1131.1 L1286.2,1132.9 L1288.7,1134.6 L1291.1,1136.3 L1293.6,1138.0 L1296.1,1139.7 L1298.6,1141.4 L1301.1,1143.0 L1303.6,1144.7 L1306.1,1146.3 L1308.6,1148.0 L1311.1,1149.6 L1313.6,1151.2 L1316.2,1152.9 L1318.7,1154.5 L1321.2,1156.1 L1323.8,1157.7 L1326.3,1159.3 L1328.9,1160.8 L1331.4,1162.4 L1334.0,1164.0 L1336.6,1165.5 L1339.1,1167.0 L1341.7,1168.5 L1344.3,1170.1 L1346.9,1171.5 L1349.5,1173.0 L1352.2,1174.5 L1354.8,1175.9 L1357.4,1177.4 L1360.1,1178.8 L1362.7,1180.2 L1365.3,1181.7 L1368.0,1183.1 L1370.6,1184.5 L1373.3,1185.9 L1375.9,1187.3 L1378.6,1188.7 L1381.2,1190.1 L1383.9,1191.4 L1386.6,1192.8 L1389.3,1194.1 L1392.0,1195.4 L1394.7,1196.7 L1397.4,1198.0 L1400.1,1199.3 L1402.9,1200.5 L1405.6,1201.7 L1408.4,1202.9 L1411.1,1204.1 L1413.9,1205.2 L1416.7,1206.4 L1419.5,1207.5 L1422.3,1208.5 L1425.1,1209.6 L1427.9,1210.6 L1430.7,1211.5 L1433.6,1212.5 L1436.4,1213.4 L1439.3,1214.3 L1442.2,1215.1 L1445.1,1216.0 L1448.0,1216.8 L1450.9,1217.5 L1453.8,1218.3 L1456.7,1219.1 L1459.6,1219.8 L1462.5,1220.5 L1465.4,1221.3 L1468.3,1222.0 L1471.2,1222.7 L1474.1,1223.5 L1477.0,1224.2 L1480.0,1224.9 L1482.9,1225.6 L1485.8,1226.4 L1488.7,1227.1 L1491.6,1227.8 L1494.5,1228.5 L1497.5,1229.1 L1500.4,1229.8 L1503.3,1230.4 L1506.2,1231.1 L1509.2,1231.7 L1512.1,1232.2 L1515.1,1232.8 L1518.0,1233.3 L1521.0,1233.8 L1523.9,1234.3 L1526.9,1234.8 L1529.9,1235.3 L1532.8,1235.7 L1535.8,1236.1 L1538.8,1236.6 L1541.7,1237.0 L1544.7,1237.4 L1547.7,1237.8 L1550.7,1238.2 L1553.6,1238.6 L1556.6,1238.9 L1559.6,1239.3 L1562.6,1239.7 L1565.6,1240.0 L1568.5,1240.3 L1571.5,1240.6 L1574.5,1240.9 L1577.5,1241.2 L1580.5,1241.5 L1583.5,1241.7 L1586.5,1241.9 L1589.4,1242.1 L1592.4,1242.3 L1595.4,1242.5 L1598.4,1242.7 L1601.4,1242.9 L1604.4,1243.0 L1607.4,1243.2 L1610.4,1243.3 L1613.4,1243.5 L1616.4,1243.6 L1619.4,1243.8 L1622.4,1243.9 L1625.4,1244.0 L1628.4,1244.2 L1631.4,1244.3 L1634.4,1244.4 L1637.4,1244.5 L1640.4,1244.6 L1643.4,1244.8 L1646.4,1244.9 L1649.4,1245.0 L1652.4,1245.1 L1655.4,1245.2 L1658.4,1245.3 L1661.4,1245.4 L1664.4,1245.5 L1667.4,1245.6 L1670.4,1245.7 L1673.4,1245.8 L1676.4,1246.0 L1679.4,1246.1 L1682.4,1246.2 L1685.4,1246.3 L1688.4,1246.4 L1691.4,1246.5 L1694.4,1246.6 L1697.4,1246.7 L1700.4,1246.8 L1703.4,1246.9 L1706.4,1247.0 L1709.4,1247.1 L1712.4,1247.2 L1715.4,1247.3 L1718.4,1247.4 L1721.3,1247.5 L1724.3,1247.6 L1727.3,1247.7 L1730.3,1247.8 L1733.3,1247.9 L1736.3,1248.0 L1739.3,1248.0 L1742.3,1248.1 L1745.3,1248.2 L1748.3,1248.3 L1751.3,1248.4 L1754.3,1248.5 L1757.3,1248.5 L1760.3,1248.6 L1763.3,1248.7 L1766.3,1248.8 L1769.3,1248.9 L1772.3,1248.9 L1775.3,1249.0 L1778.3,1249.1 L1781.3,1249.2 L1784.3,1249.3 L1787.3,1249.3 L1790.3,1249.4 L1793.3,1249.5 L1796.3,1249.5 L1799.3,1249.6 L1802.3,1249.6 L1805.3,1249.7 L1808.3,1249.7 L1811.3,1249.7 L1814.3,1249.7 L1817.3,1249.7 L1820.3,1249.8 L1823.3,1249.8 L1826.3,1249.8 L1829.3,1249.8 L1832.3,1249.8 L1835.3,1249.8 L1838.3,1249.8 L1841.3,1249.8 L1844.3,1249.8 L1847.3,1249.8 L1850.3,1249.8 L1853.3,1249.8 L1856.3,1249.8 L1859.3,1249.8 L1862.3,1249.8 L1865.3,1249.8 L1868.3,1249.8 L1871.3,1249.8 L1874.3,1249.8 L1877.3,1249.8 L1880.3,1249.8 L1883.3,1249.8 L1886.3,1249.8 L1889.3,1249.8 L1892.3,1249.8 L1895.3,1249.8 L1898.3,1249.8 L1901.3,1249.8 L1904.3,1249.8 L1907.3,1249.8 L1910.3,1249.8 L1913.3,1249.8 L1916.3,1249.8 L1919.3,1249.8 L1922.3,1249.8 L1925.3,1249.8 L1928.3,1249.8 L1931.3,1249.8 L1934.3,1249.8 L1937.3,1249.8 L1940.3,1249.8 L1943.3,1249.8 L1946.3,1249.8 L1949.3,1249.8 L1952.3,1249.8 L1955.3,1249.8 L1958.3,1249.8 L1961.3,1249.8 L1964.3,1249.8 L1967.3,1249.8 L1970.3,1249.8 L1973.3,1249.8 L1976.3,1249.8 L1979.3,1249.8 L1982.3,1249.8 L1985.3,1249.8 L1988.3,1249.8 L1991.3,1249.8 L1994.3,1249.8 L1997.4,1249.8 L2000.4,1249.8 L2003.4,1249.8 L2006.4,1249.8 L2009.4,1249.8 L2012.3,1249.8 L2015.3,1249.8 L2018.2,1249.8 L2021.1,1249.8 L2024.0,1249.8 L2026.8,1249.8 L2029.7,1249.8 L2032.5,1249.8"/>
<path stroke="#00ff00" stroke-opacity="0.5" d="M1880,1249.9 L1950,1249.8 L2032.5,1249.75"/>
<path stroke="#00ff00" d="M339.0,562.0 L339.5,565.0 L340.1,567.9 L340.6,570.9 L341.1,573.8 L341.7,576.8 L342.2,579.7 L342.8,582.7 L343.3,585.6 L343.9,588.6 L344.4,591.5 L345.0,594.5 L345.5,597.4 L346.1,600.3 L346.7,603.3 L347.2,606.2 L347.8,609.2 L348.4,612.1 L349.0,615.1 L349.5,618.0 L350.1,621.0 L350.7,623.9 L351.3,626.8 L351.9,629.8 L352.5,632.7 L353.1,635.7 L353.6,638.6 L354.2,641.6 L354.8,644.5 L355.4,647.4 L356.0,650.4 L356.6,653.3 L357.3,656.3 L357.9,659.2 L358.5,662.1 L359.1,665.1 L359.7,668.0 L360.4,670.9 L361.0,673.9 L361.6,676.8 L362.2,679.7 L362.9,682.7 L363.5,685.6 L364.2,688.5 L364.8,691.4 L365.5,694.4 L366.1,697.3 L366.8,700.2 L367.4,703.2 L368.1,706.1 L368.7,709.0 L369.4,711.9 L370.1,714.9 L370.7,717.8 L371.4,720.7 L372.1,723.7 L372.7,726.6 L373.4,729.5 L374.1,732.4 L374.8,735.4 L375.5,738.3 L376.2,741.2 L376.9,744.1 L377.6,747.0 L378.3,749.9 L379.0,752.9 L379.8,755.8 L380.5,758.7 L381.3,761.6 L382.0,764.5 L382.8,767.4 L383.5,770.3 L384.3,773.2 L385.1,776.1 L385.9,778.9 L386.7,781.8 L387.6,784.7 L388.4,787.6 L389.3,790.5 L390.1,793.3 L391.0,796.2 L391.9,799.1 L392.8,801.9 L393.7,804.8 L394.7,807.6 L395.6,810.5 L396.6,813.3 L397.6,816.1 L398.6,819.0 L399.7,821.8 L400.7,824.6 L401.8,827.4 L402.8,830.2 L403.9,833.0 L405.0,835.8 L406.1,838.6 L407.2,841.4 L408.3,844.2 L409.4,847.0 L410.5,849.8 L411.6,852.5 L412.7,855.3 L413.8,858.1 L415.0,860.9 L416.1,863.7 L417.3,866.4 L418.6,869.1 L419.8,871.9 L421.1,874.6 L422.5,877.3 L423.8,879.9 L425.2,882.6 L426.7,885.2 L428.1,887.9 L429.6,890.5 L431.1,893.1 L432.7,895.6 L434.3,898.2 L435.9,900.7 L437.7,903.1 L439.4,905.6 L441.3,907.9 L443.2,910.3 L445.2,912.5 L447.2,914.7 L449.4,916.8 L451.6,918.9 L453.8,920.8 L456.2,922.7 L458.6,924.4 L461.1,926.1 L463.7,927.6 L466.3,929.0 L469.0,930.3 L471.8,931.4 L474.6,932.4 L477.5,933.2 L480.4,933.9 L483.4,934.4 L486.3,934.8 L489.3,935.1 L492.3,935.3 L495.3,935.4 L498.3,935.3 L501.3,935.1 L504.3,934.8 L507.3,934.4 L510.2,933.9 L513.2,933.2 L516.1,932.4 L518.9,931.6 L521.8,930.6 L524.6,929.5 L527.3,928.3 L530.0,927.0 L532.7,925.6 L535.3,924.1 L537.9,922.6 L540.4,920.9 L542.8,919.2 L545.2,917.4 L547.5,915.5 L549.8,913.6 L552.1,911.6 L554.3,909.5 L556.4,907.5 L558.6,905.4 L560.7,903.3 L562.9,901.2 L565.1,899.1 L567.2,897.0 L569.5,895.0 L571.7,893.0 L574.0,891.1 L576.3,889.1 L578.6,887.2 L581.0,885.4 L583.3,883.5 L585.7,881.7 L588.1,879.9 L590.5,878.1 L593.0,876.4 L595.4,874.6 L597.9,872.9 L600.3,871.2 L602.7,869.4 L605.2,867.7 L607.6,865.9 L610.0,864.1 L612.4,862.3 L614.8,860.5 L617.2,858.7 L619.6,856.9 L621.9,855.0 L624.3,853.1 L626.6,851.2 L628.9,849.4 L631.3,847.5 L633.6,845.6 L636.0,843.7 L638.3,841.8 L640.6,840.0 L643.0,838.1 L645.3,836.2 L647.7,834.4 L650.0,832.5 L652.4,830.6 L654.8,828.8 L657.1,827.0 L659.5,825.2 L661.9,823.3 L664.3,821.5 L666.7,819.8 L669.2,818.0 L671.6,816.2 L674.0,814.5 L676.5,812.8 L678.9,811.0 L681.4,809.3 L683.9,807.6 L686.4,805.9 L688.8,804.2 L691.3,802.6 L693.9,800.9 L696.4,799.3 L698.9,797.7 L701.5,796.1 L704.0,794.5 L706.6,793.0 L709.2,791.5 L711.8,790.1 L714.5,788.7 L717.2,787.3 L719.9,786.0 L722.6,784.7 L725.3,783.5 L728.1,782.4 L730.9,781.3 L733.7,780.2 L736.6,779.3 L739.4,778.4 L742.3,777.5 L745.2,776.8 L748.1,776.1 L751.1,775.4 L754.0,774.9 L757.0,774.4 L759.9,774.0 L762.9,773.6 L765.9,773.2 L768.9,773.0 L771.9,772.7 L774.9,772.5 L777.9,772.4 L780.9,772.3 L783.9,772.2 L786.9,772.2 L789.9,772.3 L792.9,772.3 L795.9,772.5 L798.9,772.6 L801.9,772.9 L804.9,773.1 L807.8,773.4 L810.8,773.8 L813.8,774.2 L816.8,774.7 L819.7,775.2 L822.7,775.8 L825.6,776.4 L828.5,777.0 L831.4,777.8 L834.3,778.6 L837.2,779.4 L840.1,780.3 L842.9,781.2 L845.8,782.2 L848.6,783.2 L851.4,784.2 L854.2,785.3 L857.0,786.5 L859.8,787.6 L862.5,788.9 L865.2,790.1 L867.9,791.4 L870.6,792.8 L873.3,794.2 L875.9,795.6 L878.5,797.1 L881.1,798.6 L883.6,800.2 L886.2,801.8 L888.7,803.4 L891.2,805.1 L893.6,806.8 L896.1,808.6 L898.5,810.4 L900.9,812.2 L903.2,814.0 L905.6,815.9 L908.0,817.7 L910.3,819.6 L912.7,821.5 L915.0,823.4 L917.3,825.3 L919.6,827.2 L922.0,829.1 L924.3,831.0 L926.5,833.0 L928.8,834.9 L931.1,836.9 L933.3,838.9 L935.5,840.9 L937.7,843.0 L939.9,845.0 L942.0,847.1 L944.1,849.3 L946.2,851.4 L948.3,853.5 L950.4,855.7 L952.5,857.9 L954.5,860.0 L956.6,862.2 L958.7,864.4 L960.7,866.6 L962.8,868.8 L964.9,871.0 L966.9,873.1 L969.0,875.3 L971.1,877.5 L973.1,879.6 L975.2,881.8 L977.3,884.0 L979.4,886.1 L981.5,888.3 L983.6,890.4 L985.6,892.6 L987.7,894.8 L989.8,896.9 L991.9,899.1 L994.0,901.3 L996.0,903.4 L998.0,905.7 L1000.0,907.9 L1002.0,910.1 L1004.0,912.4 L1005.9,914.7 L1007.8,917.0 L1009.7,919.3 L1011.6,921.7 L1013.4,924.0 L1015.3,926.4 L1017.1,928.7 L1019.0,931.1 L1020.8,933.5 L1022.7,935.8 L1024.6,938.2 L1026.5,940.5 L1028.3,942.8 L1030.2,945.2 L1032.2,947.5 L1034.1,949.8 L1036.0,952.1 L1037.9,954.4 L1039.8,956.7 L1041.8,959.0 L1043.7,961.3 L1045.6,963.6 L1047.5,966.0 L1049.3,968.3 L1051.2,970.7 L1053.1,973.0 L1054.9,975.4 L1056.7,977.7 L1058.6,980.1 L1060.4,982.5 L1062.2,984.9 L1064.1,987.3 L1065.9,989.6 L1067.7,992.0 L1069.6,994.4 L1071.4,996.8 L1073.2,999.1 L1075.1,1001.5 L1077.0,1003.9 L1078.8,1006.2 L1080.7,1008.5 L1082.6,1010.9 L1084.5,1013.2 L1086.4,1015.5 L1088.4,1017.8 L1090.4,1020.0 L1092.4,1022.3 L1094.4,1024.5 L1096.4,1026.6 L1098.5,1028.8 L1100.7,1030.9 L1102.8,1033.0 L1105.0,1035.0 L1107.2,1037.1 L1109.4,1039.1 L1111.7,1041.0 L1114.0,1043.0 L1116.3,1044.9 L1118.6,1046.8 L1121.0,1048.7 L1123.3,1050.5 L1125.7,1052.4 L1128.0,1054.3 L1130.4,1056.2 L1132.7,1058.0 L1135.0,1060.0 L1137.3,1061.9 L1139.6,1063.8 L1141.8,1065.8 L1144.1,1067.8 L1146.3,1069.8 L1148.5,1071.8 L1150.7,1073.9 L1152.9,1075.9 L1155.0,1078.0 L1157.2,1080.1 L1159.3,1082.2 L1161.4,1084.3 L1163.6,1086.4 L1165.7,1088.6 L1167.8,1090.7 L1170.0,1092.8 L1172.1,1094.9 L1174.2,1097.0 L1176.4,1099.1 L1178.6,1101.2 L1180.7,1103.3 L1182.9,1105.3 L1185.1,1107.4 L1187.3,1109.4 L1189.5,1111.5 L1191.7,1113.5 L1193.9,1115.6 L1196.1,1117.6 L1198.3,1119.6 L1200.5,1121.7 L1202.7,1123.7 L1205.0,1125.7 L1207.2,1127.7 L1209.5,1129.7 L1211.7,1131.7 L1214.0,1133.7 L1216.2,1135.6 L1218.5,1137.6 L1220.8,1139.5 L1223.1,1141.4 L1225.5,1143.3 L1227.8,1145.2 L1230.2,1147.0 L1232.5,1148.8 L1234.9,1150.6 L1237.3,1152.4 L1239.8,1154.2 L1242.2,1155.9 L1244.7,1157.6 L1247.2,1159.3 L1249.7,1161.0 L1252.2,1162.6 L1254.7,1164.2 L1257.2,1165.9 L1259.8,1167.4 L1262.3,1169.0 L1264.9,1170.6 L1267.5,1172.1 L1270.0,1173.6 L1272.6,1175.2 L1275.2,1176.7 L1277.8,1178.1 L1280.4,1179.6 L1283.1,1181.1 L1285.7,1182.6 L1288.3,1184.0 L1291.0,1185.4 L1293.6,1186.9 L1296.2,1188.3 L1298.9,1189.7 L1301.6,1191.0 L1304.2,1192.4 L1306.9,1193.8 L1309.6,1195.1 L1312.3,1196.5 L1315.0,1197.8 L1317.7,1199.1 L1320.4,1200.4 L1323.1,1201.7 L1325.8,1203.0 L1328.5,1204.3 L1331.3,1205.5 L1334.0,1206.8 L1336.7,1208.0 L1339.5,1209.2 L1342.3,1210.4 L1345.0,1211.5 L1347.8,1212.7 L1350.6,1213.8 L1353.4,1214.8 L1356.2,1215.9 L1359.0,1216.9 L1361.9,1217.8 L1364.7,1218.7 L1367.6,1219.6 L1370.4,1220.5 L1373.3,1221.4 L1376.2,1222.2 L1379.1,1223.1 L1382.0,1223.9 L1384.8,1224.7 L1387.7,1225.5 L1390.6,1226.3 L1393.5,1227.1 L1396.4,1227.9 L1399.3,1228.6 L1402.2,1229.4 L1405.1,1230.1 L1408.1,1230.8 L1411.0,1231.4 L1413.9,1232.1 L1416.9,1232.7 L1419.8,1233.3 L1422.7,1233.8 L1425.7,1234.4 L1428.6,1234.9 L1431.6,1235.4 L1434.6,1235.9 L1437.5,1236.3 L1440.5,1236.8 L1443.5,1237.2 L1446.4,1237.6 L1449.4,1238.1 L1452.4,1238.4 L1455.4,1238.8 L1458.3,1239.2 L1461.3,1239.6 L1464.3,1240.0 L1467.3,1240.3 L1470.3,1240.7 L1473.2,1241.0 L1476.2,1241.3 L1479.2,1241.6 L1482.2,1242.0 L1485.2,1242.3 L1488.2,1242.6 L1491.1,1242.8 L1494.1,1243.1 L1497.1,1243.4 L1500.1,1243.6 L1503.1,1243.9 L1506.1,1244.1 L1509.1,1244.4 L1512.1,1244.6 L1515.1,1244.8 L1518.1,1245.0 L1521.0,1245.2 L1524.0,1245.3 L1527.0,1245.5 L1530.0,1245.7 L1533.0,1245.8 L1536.0,1246.0 L1539.0,1246.1 L1542.0,1246.3 L1545.0,1246.4 L1548.0,1246.5 L1551.0,1246.6 L1554.0,1246.8 L1557.0,1246.9 L1560.0,1247.0 L1563.0,1247.1 L1566.0,1247.2 L1569.0,1247.3 L1572.0,1247.4 L1575.0,1247.5 L1578.0,1247.6 L1581.0,1247.8 L1584.0,1247.9 L1587.0,1248.0 L1590.0,1248.1 L1593.0,1248.2 L1596.0,1248.3 L1599.0,1248.4 L1602.0,1248.5 L1605.0,1248.6 L1608.0,1248.7 L1611.0,1248.8 L1614.0,1248.9 L1617.0,1249.0 L1620.0,1249.1 L1623.0,1249.2 L1626.0,1249.3 L1629.0,1249.4 L1632.0,1249.5 L1635.0,1249.6 L1638.0,1249.6 L1641.0,1249.7 L1644.0,1249.8 L1647.0,1249.9 L1650.0,1250.0 L1653.0,1250.1 L1656.0,1250.1 L1658.9,1250.2 L1661.9,1250.3 L1664.9,1250.4 L1667.9,1250.4 L1670.9,1250.5 L1673.9,1250.6 L1677.0,1250.6 L1680.0,1250.7 L1683.0,1250.8 L1686.0,1250.9 L1689.0,1250.9 L1692.0,1251.0 L1695.0,1251.1 L1698.0,1251.2 L1701.0,1251.2 L1704.0,1251.3 L1707.0,1251.4 L1710.0,1251.5 L1712.9,1251.5 L1715.8,1251.6 L1718.7,1251.7 L1721.6,1251.8 L1724.4,1251.8 L1727.2,1251.9 L1730.0,1252.0"/>
<path stroke="#c0c0c0" d="M339.0,364.3 L339.6,367.2 L340.2,370.2 L340.8,373.1 L341.5,376.1 L342.1,379.0 L342.7,381.9 L343.3,384.9 L343.9,387.8 L344.5,390.8 L345.0,393.7 L345.6,396.6 L346.2,399.6 L346.8,402.5 L347.3,405.5 L347.9,408.4 L348.5,411.4 L349.0,414.3 L349.5,417.3 L350.1,420.2 L350.6,423.2 L351.1,426.1 L351.6,429.1 L352.1,432.0 L352.6,435.0 L353.1,437.9 L353.6,440.9 L354.1,443.9 L354.6,446.8 L355.0,449.8 L355.5,452.8 L356.0,455.7 L356.4,458.7 L356.9,461.7 L357.4,464.6 L357.8,467.6 L358.3,470.6 L358.7,473.5 L359.2,476.5 L359.7,479.4 L360.1,482.4 L360.6,485.4 L361.1,488.3 L361.6,491.3 L362.1,494.3 L362.6,497.2 L363.1,500.2 L363.6,503.1 L364.1,506.1 L364.6,509.0 L365.2,512.0 L365.7,514.9 L366.3,517.9 L366.9,520.8 L367.4,523.8 L368.0,526.7 L368.6,529.6 L369.2,532.6 L369.8,535.5 L370.4,538.5 L371.0,541.4 L371.6,544.3 L372.3,547.3 L372.9,550.2 L373.5,553.1 L374.2,556.1 L374.8,559.0 L375.4,561.9 L376.1,564.9 L376.7,567.8 L377.3,570.7 L378.0,573.7 L378.6,576.6 L379.2,579.5 L379.8,582.5 L380.5,585.4 L381.1,588.3 L381.7,591.3 L382.3,594.2 L382.9,597.1 L383.5,600.1 L384.1,603.0 L384.7,606.0 L385.3,608.9 L385.9,611.9 L386.4,614.8 L387.0,617.8 L387.6,620.7 L388.1,623.7 L388.7,626.6 L389.2,629.6 L389.8,632.5 L390.3,635.5 L390.9,638.4 L391.4,641.4 L392.0,644.3 L392.5,647.3 L393.1,650.2 L393.6,653.2 L394.2,656.1 L394.8,659.1 L395.3,662.0 L395.9,665.0 L396.5,667.9 L397.1,670.8 L397.7,673.8 L398.3,676.7 L399.0,679.6 L399.6,682.5 L400.3,685.5 L400.9,688.4 L401.6,691.3 L402.3,694.2 L403.1,697.1 L403.8,700.0 L404.6,702.9 L405.4,705.8 L406.2,708.7 L407.0,711.6 L407.8,714.5 L408.7,717.3 L409.5,720.2 L410.4,723.1 L411.3,726.0 L412.1,728.9 L413.0,731.7 L413.9,734.6 L414.8,737.5 L415.7,740.3 L416.5,743.2 L417.4,746.1 L418.3,749.0 L419.2,751.8 L420.0,754.7 L420.8,757.6 L421.6,760.5 L422.4,763.4 L423.2,766.3 L424.0,769.2 L424.7,772.1 L425.4,775.0 L426.1,777.9 L426.7,780.9 L427.4,783.8 L428.0,786.7 L428.7,789.6 L429.4,792.6 L430.1,795.5 L430.8,798.4 L431.7,801.2 L432.5,804.1 L433.5,806.9 L434.5,809.7 L435.6,812.5 L436.7,815.3 L437.8,818.1 L439.0,820.8 L440.3,823.6 L441.5,826.3 L442.8,829.0 L444.0,831.8 L445.2,834.5 L446.5,837.3 L447.7,840.0 L448.9,842.8 L450.0,845.5 L451.2,848.3 L452.3,851.1 L453.4,853.9 L454.5,856.7 L455.6,859.5 L456.7,862.3 L457.8,865.0 L458.9,867.8 L460.2,870.5 L461.4,873.2 L462.7,875.9 L464.1,878.6 L465.5,881.2 L467.0,883.8 L468.4,886.5 L470.0,889.1 L471.5,891.7 L473.0,894.3 L474.6,896.9 L476.1,899.5 L477.7,902.1 L479.2,904.7 L480.9,907.2 L482.5,909.7 L484.2,912.2 L486.0,914.6 L487.9,916.8 L489.9,919.1 L492.0,921.2 L494.2,923.2 L496.4,925.1 L498.8,926.9 L501.2,928.7 L503.7,930.3 L506.3,931.9 L509.0,933.4 L511.7,934.7 L514.4,936.0 L517.2,937.1 L520.0,938.1 L522.9,939.0 L525.8,939.7 L528.7,940.3 L531.6,940.8 L534.6,941.1 L537.6,941.2 L540.6,941.2 L543.5,941.1 L546.5,940.8 L549.5,940.4 L552.4,939.8 L555.3,939.1 L558.2,938.3 L561.0,937.4 L563.9,936.4 L566.7,935.3 L569.5,934.2 L572.3,933.0 L575.0,931.8 L577.8,930.5 L580.5,929.2 L583.2,927.9 L585.9,926.6 L588.5,925.2 L591.2,923.8 L593.8,922.4 L596.5,920.9 L599.1,919.4 L601.7,917.9 L604.3,916.4 L606.8,914.9 L609.4,913.4 L612.0,911.8 L614.6,910.3 L617.1,908.7 L619.7,907.1 L622.2,905.5 L624.8,903.9 L627.3,902.3 L629.8,900.7 L632.3,899.0 L634.8,897.4 L637.3,895.7 L639.7,894.0 L642.2,892.3 L644.7,890.6 L647.2,888.9 L649.6,887.2 L652.1,885.5 L654.6,883.8 L657.0,882.1 L659.5,880.4 L662.0,878.7 L664.4,877.0 L666.9,875.2 L669.4,873.5 L671.8,871.8 L674.3,870.1 L676.8,868.4 L679.2,866.7 L681.6,864.9 L684.1,863.1 L686.5,861.4 L688.9,859.6 L691.3,857.8 L693.7,856.0 L696.1,854.2 L698.5,852.4 L700.9,850.6 L703.3,848.8 L705.8,847.1 L708.2,845.3 L710.7,843.6 L713.1,841.9 L715.6,840.3 L718.2,838.7 L720.7,837.1 L723.3,835.5 L725.8,833.9 L728.4,832.4 L731.0,830.9 L733.6,829.4 L736.2,827.9 L738.8,826.4 L741.4,825.0 L744.1,823.5 L746.7,822.1 L749.4,820.7 L752.0,819.3 L754.7,817.9 L757.4,816.6 L760.0,815.2 L762.8,813.9 L765.5,812.7 L768.2,811.4 L770.9,810.2 L773.7,808.9 L776.4,807.7 L779.2,806.5 L781.9,805.4 L784.7,804.2 L787.5,803.0 L790.3,801.9 L793.0,800.8 L795.8,799.7 L798.6,798.6 L801.5,797.6 L804.3,796.6 L807.1,795.6 L810.0,794.7 L812.9,793.8 L815.8,793.1 L818.7,792.3 L821.6,791.7 L824.5,791.1 L827.5,790.6 L830.4,790.1 L833.4,789.8 L836.4,789.4 L839.4,789.1 L842.4,788.9 L845.4,788.7 L848.4,788.6 L851.4,788.4 L854.4,788.4 L857.4,788.3 L860.4,788.3 L863.4,788.3 L866.4,788.4 L869.4,788.6 L872.4,788.7 L875.4,789.0 L878.3,789.2 L881.3,789.6 L884.3,789.9 L887.3,790.3 L890.2,790.8 L893.2,791.3 L896.2,791.8 L899.1,792.4 L902.1,793.0 L905.0,793.6 L907.9,794.3 L910.8,795.0 L913.7,795.7 L916.6,796.5 L919.5,797.3 L922.4,798.1 L925.3,799.0 L928.1,799.9 L931.0,800.9 L933.8,801.8 L936.7,802.8 L939.5,803.9 L942.3,804.9 L945.1,806.0 L947.9,807.2 L950.6,808.3 L953.4,809.5 L956.1,810.7 L958.9,812.0 L961.6,813.2 L964.3,814.5 L967.0,815.8 L969.7,817.2 L972.4,818.5 L975.0,819.9 L977.7,821.2 L980.4,822.6 L983.0,824.0 L985.7,825.4 L988.4,826.8 L991.0,828.3 L993.6,829.7 L996.2,831.2 L998.8,832.7 L1001.3,834.3 L1003.9,835.9 L1006.4,837.6 L1008.8,839.3 L1011.3,841.0 L1013.7,842.8 L1016.1,844.6 L1018.4,846.4 L1020.8,848.3 L1023.1,850.2 L1025.4,852.2 L1027.6,854.1 L1029.9,856.1 L1032.1,858.1 L1034.4,860.2 L1036.5,862.2 L1038.7,864.3 L1040.9,866.4 L1043.0,868.5 L1045.1,870.6 L1047.2,872.7 L1049.3,874.9 L1051.4,877.1 L1053.5,879.2 L1055.5,881.4 L1057.5,883.6 L1059.6,885.8 L1061.6,888.0 L1063.7,890.2 L1065.8,892.4 L1067.8,894.5 L1070.0,896.7 L1072.1,898.8 L1074.2,900.9 L1076.4,903.0 L1078.5,905.1 L1080.7,907.1 L1082.9,909.2 L1085.1,911.2 L1087.3,913.3 L1089.5,915.3 L1091.7,917.4 L1093.9,919.4 L1096.1,921.5 L1098.3,923.5 L1100.5,925.5 L1102.7,927.5 L1104.9,929.6 L1107.1,931.6 L1109.4,933.6 L1111.6,935.6 L1113.8,937.6 L1116.1,939.6 L1118.3,941.6 L1120.5,943.6 L1122.7,945.7 L1124.9,947.7 L1127.1,949.7 L1129.3,951.8 L1131.5,953.8 L1133.7,955.9 L1135.8,958.0 L1137.9,960.2 L1140.0,962.3 L1142.1,964.5 L1144.1,966.6 L1146.2,968.8 L1148.2,971.0 L1150.3,973.2 L1152.3,975.4 L1154.4,977.6 L1156.4,979.8 L1158.5,982.0 L1160.5,984.2 L1162.6,986.4 L1164.6,988.6 L1166.7,990.7 L1168.7,992.9 L1170.8,995.1 L1172.9,997.3 L1175.0,999.4 L1177.0,1001.6 L1179.1,1003.7 L1181.2,1005.9 L1183.3,1008.1 L1185.4,1010.2 L1187.5,1012.4 L1189.5,1014.5 L1191.6,1016.7 L1193.7,1018.9 L1195.8,1021.0 L1197.9,1023.2 L1200.0,1025.3 L1202.1,1027.5 L1204.1,1029.6 L1206.3,1031.8 L1208.4,1033.9 L1210.5,1036.0 L1212.7,1038.1 L1214.9,1040.1 L1217.1,1042.2 L1219.3,1044.2 L1221.5,1046.2 L1223.8,1048.2 L1226.0,1050.1 L1228.3,1052.1 L1230.6,1054.0 L1232.9,1056.0 L1235.1,1057.9 L1237.4,1059.9 L1239.7,1061.9 L1241.9,1063.8 L1244.2,1065.8 L1246.4,1067.8 L1248.7,1069.8 L1250.9,1071.8 L1253.2,1073.8 L1255.4,1075.8 L1257.6,1077.8 L1259.9,1079.8 L1262.1,1081.8 L1264.4,1083.7 L1266.7,1085.7 L1268.9,1087.6 L1271.2,1089.6 L1273.6,1091.5 L1275.9,1093.4 L1278.2,1095.3 L1280.5,1097.1 L1282.9,1099.0 L1285.2,1100.9 L1287.6,1102.8 L1289.9,1104.6 L1292.3,1106.5 L1294.6,1108.4 L1297.0,1110.2 L1299.3,1112.1 L1301.7,1114.0 L1304.0,1115.8 L1306.4,1117.6 L1308.8,1119.5 L1311.2,1121.3 L1313.6,1123.1 L1316.0,1124.9 L1318.4,1126.7 L1320.8,1128.4 L1323.2,1130.2 L1325.7,1131.9 L1328.1,1133.7 L1330.6,1135.4 L1333.0,1137.2 L1335.5,1138.9 L1337.9,1140.6 L1340.4,1142.3 L1342.9,1144.0 L1345.3,1145.7 L1347.8,1147.4 L1350.3,1149.1 L1352.8,1150.7 L1355.3,1152.4 L1357.8,1154.0 L1360.4,1155.6 L1362.9,1157.2 L1365.5,1158.7 L1368.1,1160.3 L1370.6,1161.8 L1373.2,1163.3 L1375.8,1164.8 L1378.4,1166.3 L1381.0,1167.8 L1383.6,1169.3 L1386.2,1170.8 L1388.9,1172.3 L1391.5,1173.8 L1394.1,1175.2 L1396.7,1176.7 L1399.4,1178.1 L1402.0,1179.5 L1404.7,1180.9 L1407.3,1182.2 L1410.0,1183.6 L1412.7,1184.9 L1415.4,1186.1 L1418.2,1187.4 L1420.9,1188.6 L1423.6,1189.9 L1426.4,1191.1 L1429.1,1192.3 L1431.9,1193.5 L1434.6,1194.7 L1437.4,1195.8 L1440.2,1197.0 L1443.0,1198.1 L1445.7,1199.2 L1448.5,1200.4 L1451.3,1201.5 L1454.1,1202.5 L1456.9,1203.6 L1459.7,1204.6 L1462.6,1205.7 L1465.4,1206.7 L1468.2,1207.6 L1471.1,1208.6 L1473.9,1209.6 L1476.8,1210.5 L1479.6,1211.4 L1482.5,1212.3 L1485.3,1213.2 L1488.2,1214.0 L1491.1,1214.9 L1494.0,1215.7 L1496.9,1216.5 L1499.8,1217.3 L1502.7,1218.0 L1505.6,1218.8 L1508.5,1219.5 L1511.4,1220.2 L1514.3,1221.0 L1517.2,1221.7 L1520.1,1222.4 L1523.1,1223.1 L1526.0,1223.8 L1528.9,1224.6 L1531.8,1225.3 L1534.7,1226.0 L1537.6,1226.7 L1540.5,1227.4 L1543.4,1228.2 L1546.4,1228.9 L1549.3,1229.6 L1552.2,1230.3 L1555.1,1230.9 L1558.0,1231.6 L1561.0,1232.3 L1563.9,1232.9 L1566.8,1233.5 L1569.8,1234.1 L1572.7,1234.7 L1575.7,1235.2 L1578.6,1235.7 L1581.6,1236.2 L1584.6,1236.6 L1587.5,1237.0 L1590.5,1237.4 L1593.5,1237.8 L1596.5,1238.1 L1599.4,1238.5 L1602.4,1238.8 L1605.4,1239.1 L1608.4,1239.4 L1611.4,1239.7 L1614.4,1240.0 L1617.3,1240.3 L1620.3,1240.6 L1623.3,1240.9 L1626.3,1241.2 L1629.3,1241.5 L1632.3,1241.7 L1635.3,1242.0 L1638.3,1242.3 L1641.2,1242.5 L1644.2,1242.8 L1647.2,1243.1 L1650.2,1243.3 L1653.2,1243.6 L1656.2,1243.8 L1659.2,1244.1 L1662.2,1244.3 L1665.2,1244.6 L1668.2,1244.8 L1671.1,1245.0 L1674.1,1245.3 L1677.1,1245.5 L1680.1,1245.7 L1683.1,1245.9 L1686.1,1246.1 L1689.1,1246.3 L1692.1,1246.5 L1695.1,1246.7 L1698.1,1246.9 L1701.1,1247.0 L1704.1,1247.2 L1707.1,1247.4 L1710.1,1247.5 L1713.1,1247.7 L1716.1,1247.9 L1719.1,1248.0 L1722.0,1248.2 L1725.0,1248.3 L1728.0,1248.4 L1731.0,1248.6 L1734.0,1248.7 L1737.0,1248.9 L1740.0,1249.0 L1743.0,1249.1 L1746.0,1249.2 L1749.0,1249.4 L1752.0,1249.5 L1755.0,1249.6 L1758.0,1249.7 L1761.0,1249.8 L1764.0,1250.0 L1767.0,1250.1 L1770.0,1250.2 L1773.0,1250.3 L1776.0,1250.4 L1779.0,1250.5 L1782.0,1250.6 L1785.0,1250.7 L1788.0,1250.8 L1791.0,1250.9 L1794.0,1251.0 L1797.0,1251.1 L1800.0,1251.1 L1803.0,1251.2 L1806.0,1251.3 L1809.0,1251.4 L1812.0,1251.4 L1815.0,1251.5 L1818.0,1251.6 L1821.0,1251.6 L1824.0,1251.7 L1827.0,1251.7 L1830.0,1251.8 L1833.0,1251.8 L1836.0,1251.9 L1839.0,1251.9 L1842.0,1252.0 L1845.0,1252.0 L1848.0,1252.1 L1851.0,1252.1 L1854.0,1252.2 L1857.0,1252.2 L1860.0,1252.3 L1863.0,1252.3 L1866.0,1252.3 L1869.0,1252.4 L1872.0,1252.4 L1875.0,1252.4 L1878.0,1252.5 L1881.0,1252.5 L1884.0,1252.5 L1887.0,1252.5 L1890.0,1252.6 L1893.0,1252.6 L1896.0,1252.6 L1899.0,1252.6 L1902.0,1252.6 L1905.0,1252.6 L1908.0,1252.6 L1911.0,1252.6 L1914.0,1252.6 L1917.0,1252.6 L1920.0,1252.6 L1923.0,1252.6 L1926.0,1252.7 L1929.0,1252.7 L1932.0,1252.7 L1935.0,1252.7 L1938.0,1252.7 L1941.0,1252.7 L1944.0,1252.7 L1947.0,1252.7 L1950.0,1252.7 L1953.0,1252.7 L1956.0,1252.7 L1959.0,1252.7 L1962.0,1252.7 L1965.0,1252.7 L1968.0,1252.7 L1971.0,1252.7 L1974.0,1252.7 L1977.0,1252.7 L1980.0,1252.7 L1983.0,1252.7 L1986.0,1252.7 L1989.0,1252.7 L1992.0,1252.7 L1995.0,1252.7 L1998.1,1252.7 L2001.1,1252.7 L2004.1,1252.7 L2007.1,1252.7 L2010.1,1252.7 L2013.0,1252.7 L2015.9,1252.7 L2018.8,1252.7 L2021.6,1252.7 L2024.4,1252.7 L2027.1,1252.7 L2029.8,1252.7 L2032.5,1252.8"/>
<path stroke="#800000" d="M339.0,518.0 L339.5,521.0 L340.0,523.9 L340.5,526.9 L341.0,529.8 L341.6,532.8 L342.1,535.7 L342.6,538.7 L343.1,541.6 L343.6,544.6 L344.2,547.6 L344.7,550.5 L345.2,553.5 L345.8,556.4 L346.3,559.4 L346.9,562.3 L347.4,565.3 L348.0,568.2 L348.5,571.2 L349.1,574.1 L349.6,577.1 L350.2,580.0 L350.7,583.0 L351.3,585.9 L351.9,588.8 L352.4,591.8 L353.0,594.7 L353.6,597.7 L354.1,600.6 L354.7,603.6 L355.3,606.5 L355.9,609.5 L356.5,612.4 L357.1,615.3 L357.7,618.3 L358.2,621.2 L358.8,624.2 L359.4,627.1 L360.0,630.0 L360.7,633.0 L361.3,635.9 L361.9,638.9 L362.5,641.8 L363.1,644.7 L363.7,647.7 L364.3,650.6 L365.0,653.5 L365.6,656.5 L366.2,659.4 L366.9,662.3 L367.5,665.3 L368.1,668.2 L368.8,671.1 L369.4,674.1 L370.1,677.0 L370.7,679.9 L371.4,682.8 L372.0,685.8 L372.7,688.7 L373.3,691.6 L374.0,694.6 L374.7,697.5 L375.3,700.4 L375.9,703.4 L376.6,706.3 L377.2,709.2 L377.9,712.2 L378.5,715.1 L379.2,718.1 L379.8,721.0 L380.4,724.0 L381.1,726.9 L381.7,729.8 L382.4,732.8 L383.1,735.7 L383.8,738.6 L384.4,741.6 L385.1,744.5 L385.8,747.4 L386.6,750.3 L387.3,753.2 L388.0,756.1 L388.8,759.0 L389.6,761.9 L390.4,764.8 L391.3,767.7 L392.1,770.5 L393.0,773.4 L394.0,776.2 L395.0,779.0 L396.0,781.8 L397.1,784.6 L398.1,787.4 L399.2,790.2 L400.3,793.0 L401.4,795.8 L402.4,798.6 L403.4,801.4 L404.4,804.2 L405.3,807.1 L406.2,809.9 L407.0,812.8 L407.8,815.7 L408.7,818.6 L409.5,821.5 L410.3,824.3 L411.2,827.2 L412.0,830.1 L413.0,833.0 L413.9,835.8 L414.9,838.6 L415.9,841.5 L416.9,844.3 L418.0,847.1 L419.0,849.9 L420.1,852.7 L421.3,855.5 L422.4,858.2 L423.6,861.0 L424.8,863.8 L425.9,866.5 L427.2,869.3 L428.4,872.0 L429.6,874.8 L430.9,877.5 L432.2,880.2 L433.5,882.9 L434.8,885.6 L436.3,888.3 L437.7,890.9 L439.3,893.5 L440.9,896.0 L442.5,898.5 L444.3,901.0 L446.2,903.3 L448.1,905.6 L450.1,907.8 L452.2,909.9 L454.5,911.9 L456.8,913.8 L459.2,915.6 L461.6,917.2 L464.2,918.8 L466.8,920.3 L469.5,921.6 L472.2,922.8 L475.0,924.0 L477.8,925.0 L480.7,925.9 L483.6,926.6 L486.5,927.3 L489.5,927.9 L492.5,928.3 L495.5,928.6 L498.4,928.8 L501.4,928.9 L504.4,928.9 L507.4,928.8 L510.4,928.6 L513.4,928.2 L516.4,927.8 L519.3,927.2 L522.2,926.5 L525.1,925.7 L528.0,924.8 L530.8,923.8 L533.6,922.7 L536.3,921.6 L539.1,920.3 L541.8,919.0 L544.5,917.6 L547.1,916.2 L549.7,914.8 L552.3,913.3 L554.9,911.7 L557.5,910.1 L560.0,908.5 L562.5,906.9 L565.0,905.2 L567.5,903.5 L569.9,901.8 L572.4,900.1 L574.9,898.3 L577.3,896.6 L579.8,894.9 L582.2,893.2 L584.7,891.4 L587.1,889.7 L589.6,888.0 L592.0,886.2 L594.5,884.5 L596.9,882.8 L599.4,881.0 L601.8,879.2 L604.2,877.5 L606.6,875.7 L609.0,873.9 L611.4,872.1 L613.8,870.3 L616.2,868.5 L618.6,866.7 L621.0,864.9 L623.4,863.1 L625.8,861.4 L628.3,859.6 L630.6,857.7 L633.0,855.9 L635.3,854.0 L637.7,852.1 L639.9,850.2 L642.2,848.2 L644.4,846.2 L646.6,844.1 L648.7,842.0 L650.9,839.9 L653.0,837.8 L655.1,835.7 L657.3,833.6 L659.4,831.5 L661.6,829.5 L663.8,827.4 L666.1,825.4 L668.3,823.5 L670.6,821.6 L673.0,819.7 L675.3,817.9 L677.7,816.1 L680.2,814.3 L682.6,812.5 L685.1,810.8 L687.5,809.1 L690.0,807.4 L692.5,805.7 L695.1,804.1 L697.6,802.5 L700.2,801.0 L702.8,799.5 L705.4,798.0 L708.1,796.6 L710.7,795.3 L713.4,794.0 L716.2,792.7 L718.9,791.6 L721.7,790.5 L724.5,789.4 L727.4,788.4 L730.2,787.5 L733.1,786.6 L736.0,785.8 L738.9,785.0 L741.8,784.3 L744.7,783.6 L747.6,783.0 L750.6,782.4 L753.6,781.9 L756.5,781.4 L759.5,781.0 L762.5,780.7 L765.5,780.4 L768.4,780.1 L771.4,779.9 L774.4,779.8 L777.4,779.7 L780.4,779.6 L783.4,779.6 L786.4,779.6 L789.5,779.6 L792.5,779.7 L795.5,779.8 L798.5,780.0 L801.4,780.2 L804.4,780.4 L807.4,780.7 L810.4,781.0 L813.4,781.4 L816.3,781.8 L819.3,782.3 L822.2,782.9 L825.2,783.4 L828.1,784.1 L831.1,784.7 L834.0,785.4 L836.9,786.1 L839.8,786.9 L842.7,787.7 L845.6,788.5 L848.5,789.3 L851.4,790.2 L854.2,791.1 L857.1,792.0 L859.9,793.0 L862.7,794.1 L865.5,795.1 L868.3,796.3 L871.0,797.5 L873.7,798.7 L876.4,800.0 L879.1,801.3 L881.8,802.7 L884.5,804.1 L887.2,805.5 L889.8,806.9 L892.5,808.3 L895.1,809.7 L897.8,811.2 L900.4,812.6 L903.0,814.1 L905.6,815.6 L908.2,817.2 L910.7,818.8 L913.2,820.5 L915.6,822.2 L918.0,824.0 L920.3,825.8 L922.6,827.7 L924.9,829.6 L927.1,831.6 L929.4,833.7 L931.5,835.7 L933.7,837.8 L935.8,840.0 L938.0,842.1 L940.1,844.2 L942.2,846.4 L944.3,848.6 L946.3,850.7 L948.4,852.9 L950.5,855.1 L952.5,857.3 L954.6,859.5 L956.6,861.7 L958.7,863.9 L960.7,866.0 L962.8,868.2 L964.8,870.4 L966.9,872.6 L969.0,874.8 L971.0,876.9 L973.1,879.1 L975.2,881.3 L977.3,883.4 L979.3,885.6 L981.4,887.8 L983.5,889.9 L985.6,892.1 L987.7,894.2 L989.8,896.4 L991.9,898.5 L993.9,900.7 L996.0,902.9 L998.0,905.1 L1000.0,907.3 L1002.0,909.5 L1004.0,911.8 L1005.9,914.1 L1007.8,916.4 L1009.7,918.7 L1011.6,921.1 L1013.5,923.4 L1015.3,925.8 L1017.2,928.1 L1019.0,930.5 L1020.9,932.9 L1022.7,935.2 L1024.6,937.6 L1026.5,939.9 L1028.4,942.3 L1030.3,944.6 L1032.2,946.9 L1034.1,949.2 L1036.0,951.5 L1037.9,953.8 L1039.8,956.1 L1041.8,958.4 L1043.7,960.7 L1045.6,963.1 L1047.5,965.4 L1049.4,967.7 L1051.2,970.1 L1053.1,972.4 L1054.9,974.8 L1056.8,977.1 L1058.6,979.5 L1060.4,981.9 L1062.3,984.3 L1064.1,986.7 L1065.9,989.0 L1067.8,991.4 L1069.6,993.8 L1071.4,996.2 L1073.3,998.5 L1075.1,1000.9 L1077.0,1003.3 L1078.9,1005.6 L1080.7,1008.0 L1082.6,1010.3 L1084.5,1012.6 L1086.5,1014.9 L1088.4,1017.2 L1090.4,1019.4 L1092.4,1021.7 L1094.4,1023.9 L1096.5,1026.0 L1098.5,1028.2 L1100.7,1030.3 L1102.8,1032.4 L1105.0,1034.5 L1107.1,1036.6 L1109.3,1038.6 L1111.5,1040.6 L1113.7,1042.7 L1116.0,1044.7 L1118.2,1046.7 L1120.4,1048.7 L1122.6,1050.7 L1124.9,1052.7 L1127.1,1054.7 L1129.3,1056.7 L1131.6,1058.8 L1133.8,1060.8 L1136.0,1062.8 L1138.2,1064.8 L1140.5,1066.8 L1142.7,1068.8 L1144.9,1070.9 L1147.1,1072.9 L1149.3,1075.0 L1151.5,1077.0 L1153.6,1079.1 L1155.8,1081.2 L1158.0,1083.2 L1160.1,1085.3 L1162.2,1087.5 L1164.3,1089.6 L1166.4,1091.7 L1168.5,1093.9 L1170.6,1096.1 L1172.7,1098.2 L1174.7,1100.4 L1176.8,1102.6 L1178.8,1104.8 L1180.9,1106.9 L1183.0,1109.1 L1185.1,1111.3 L1187.2,1113.4 L1189.3,1115.5 L1191.4,1117.7 L1193.5,1119.8 L1195.7,1121.9 L1197.8,1124.0 L1200.0,1126.0 L1202.2,1128.1 L1204.4,1130.1 L1206.6,1132.2 L1208.8,1134.2 L1211.0,1136.2 L1213.3,1138.2 L1215.5,1140.2 L1217.8,1142.2 L1220.1,1144.1 L1222.4,1146.1 L1224.7,1148.0 L1227.0,1149.9 L1229.3,1151.8 L1231.6,1153.6 L1234.0,1155.5 L1236.4,1157.3 L1238.8,1159.1 L1241.2,1161.0 L1243.6,1162.7 L1246.0,1164.5 L1248.4,1166.3 L1250.8,1168.1 L1253.2,1169.9 L1255.7,1171.6 L1258.1,1173.4 L1260.5,1175.1 L1263.0,1176.9 L1265.4,1178.6 L1267.9,1180.3 L1270.4,1182.0 L1272.9,1183.7 L1275.4,1185.3 L1277.9,1187.0 L1280.4,1188.6 L1283.0,1190.1 L1285.6,1191.7 L1288.2,1193.2 L1290.8,1194.6 L1293.4,1196.0 L1296.1,1197.4 L1298.8,1198.8 L1301.5,1200.1 L1304.2,1201.4 L1306.9,1202.6 L1309.7,1203.8 L1312.4,1205.0 L1315.2,1206.1 L1318.0,1207.3 L1320.7,1208.4 L1323.5,1209.5 L1326.3,1210.6 L1329.1,1211.7 L1331.9,1212.7 L1334.7,1213.8 L1337.6,1214.9 L1340.4,1215.9 L1343.2,1216.9 L1346.0,1218.0 L1348.8,1219.0 L1351.7,1220.0 L1354.5,1220.9 L1357.3,1221.9 L1360.2,1222.8 L1363.0,1223.8 L1365.9,1224.7 L1368.8,1225.5 L1371.6,1226.4 L1374.5,1227.3 L1377.4,1228.1 L1380.3,1228.9 L1383.2,1229.7 L1386.1,1230.5 L1389.0,1231.3 L1391.9,1232.0 L1394.8,1232.8 L1397.7,1233.5 L1400.6,1234.2 L1403.5,1234.9 L1406.5,1235.5 L1409.4,1236.2 L1412.3,1236.8 L1415.3,1237.4 L1418.2,1238.0 L1421.2,1238.6 L1424.1,1239.1 L1427.1,1239.6 L1430.0,1240.1 L1433.0,1240.6 L1435.9,1241.1 L1438.9,1241.6 L1441.9,1242.0 L1444.8,1242.5 L1447.8,1242.9 L1450.8,1243.3 L1453.8,1243.7 L1456.7,1244.1 L1459.7,1244.5 L1462.7,1244.9 L1465.7,1245.2 L1468.6,1245.6 L1471.6,1245.9 L1474.6,1246.2 L1477.6,1246.6 L1480.6,1246.9 L1483.5,1247.2 L1486.5,1247.5 L1489.5,1247.8 L1492.5,1248.1 L1495.5,1248.4 L1498.5,1248.6 L1501.5,1248.9 L1504.5,1249.1 L1507.5,1249.4 L1510.4,1249.6 L1513.4,1249.8 L1516.4,1250.0 L1519.4,1250.1 L1522.4,1250.3 L1525.4,1250.4 L1528.4,1250.5 L1531.4,1250.6 L1534.4,1250.7 L1537.4,1250.8 L1540.4,1250.9 L1543.4,1251.0 L1546.4,1251.1 L1549.4,1251.2 L1552.4,1251.2 L1555.4,1251.4 L1558.4,1251.5 L1561.4,1251.6 L1564.4,1251.8 L1567.4,1252.0 L1570.4,1252.1 L1573.4,1252.3 L1576.4,1252.5 L1579.4,1252.7 L1582.3,1252.9 L1585.3,1253.1 L1588.3,1253.2 L1591.3,1253.3 L1594.3,1253.5 L1597.3,1253.6 L1600.3,1253.7 L1603.3,1253.7 L1606.3,1253.8 L1609.3,1253.9 L1612.3,1254.0 L1615.3,1254.1 L1618.3,1254.2 L1621.3,1254.2 L1624.3,1254.3 L1627.3,1254.4 L1630.3,1254.5 L1633.3,1254.6 L1636.3,1254.7 L1639.3,1254.7 L1642.3,1254.8 L1645.3,1254.9 L1648.3,1255.0 L1651.3,1255.0 L1654.3,1255.1 L1657.3,1255.2 L1660.3,1255.2 L1663.3,1255.3 L1666.3,1255.4 L1669.3,1255.4 L1672.3,1255.5 L1675.3,1255.5 L1678.3,1255.6 L1681.3,1255.6 L1684.3,1255.6 L1687.3,1255.7 L1690.3,1255.7 L1693.3,1255.7 L1696.3,1255.7 L1699.3,1255.7 L1702.3,1255.7 L1705.3,1255.7 L1708.3,1255.7 L1711.3,1255.7 L1714.3,1255.7 L1717.3,1255.7 L1720.3,1255.7 L1723.3,1255.7 L1726.3,1255.7 L1729.3,1255.7 L1732.3,1255.7 L1735.3,1255.7 L1738.3,1255.6 L1741.3,1255.6 L1744.3,1255.6 L1747.3,1255.6 L1750.3,1255.6 L1753.3,1255.6 L1756.3,1255.6 L1759.3,1255.6 L1762.3,1255.6 L1765.3,1255.6 L1768.3,1255.6 L1771.3,1255.6 L1774.3,1255.6 L1777.3,1255.6 L1780.3,1255.6 L1783.3,1255.6 L1786.3,1255.5 L1789.3,1255.5 L1792.3,1255.5 L1795.3,1255.5 L1798.3,1255.5 L1801.3,1255.5 L1804.3,1255.5 L1807.3,1255.5 L1810.3,1255.5 L1813.3,1255.5 L1816.3,1255.5 L1819.3,1255.5 L1822.3,1255.5 L1825.3,1255.5 L1828.3,1255.5 L1831.3,1255.5 L1834.3,1255.5 L1837.3,1255.5 L1840.3,1255.5 L1843.3,1255.5 L1846.3,1255.5 L1849.3,1255.5 L1852.3,1255.5 L1855.3,1255.5 L1858.3,1255.4 L1861.3,1255.4 L1864.3,1255.4 L1867.3,1255.4 L1870.3,1255.4 L1873.3,1255.4 L1876.3,1255.4 L1879.3,1255.4 L1882.3,1255.4 L1885.3,1255.4 L1888.3,1255.4 L1891.3,1255.4 L1894.3,1255.4 L1897.3,1255.4 L1900.3,1255.4 L1903.3,1255.4 L1906.3,1255.4 L1909.3,1255.4 L1912.3,1255.4 L1915.3,1255.4 L1918.3,1255.4 L1921.3,1255.4 L1924.3,1255.4 L1927.3,1255.4 L1930.3,1255.4 L1933.3,1255.4 L1936.3,1255.4 L1939.3,1255.4 L1942.3,1255.4 L1945.3,1255.4 L1948.3,1255.4 L1951.3,1255.4 L1954.3,1255.4 L1957.3,1255.3 L1960.3,1255.3 L1963.3,1255.3 L1966.3,1255.3 L1969.3,1255.3 L1972.3,1255.3 L1975.3,1255.3 L1978.3,1255.3 L1981.3,1255.3 L1984.3,1255.3 L1987.3,1255.3 L1990.4,1255.3 L1993.4,1255.3 L1996.4,1255.3 L1999.4,1255.3 L2002.5,1255.3 L2005.5,1255.3 L2008.5,1255.3 L2011.4,1255.3 L2014.4,1255.3 L2017.2,1255.3 L2020.0,1255.3 L2022.6,1255.3 L2025.2,1255.3 L2027.7,1255.3 L2030.1,1255.3 L2032.5,1255.3"/>
<path stroke="#008000" d="M339.0,447.1 L339.5,450.1 L340.0,453.0 L340.5,456.0 L341.0,458.9 L341.6,461.9 L342.1,464.8 L342.6,467.8 L343.1,470.7 L343.6,473.7 L344.1,476.7 L344.6,479.6 L345.2,482.6 L345.7,485.5 L346.2,488.5 L346.7,491.4 L347.2,494.4 L347.8,497.3 L348.3,500.3 L348.8,503.3 L349.3,506.2 L349.9,509.2 L350.4,512.1 L350.9,515.1 L351.4,518.0 L352.0,521.0 L352.5,523.9 L353.0,526.9 L353.5,529.8 L354.1,532.8 L354.6,535.7 L355.1,538.7 L355.7,541.6 L356.2,544.6 L356.7,547.5 L357.3,550.5 L357.8,553.5 L358.3,556.4 L358.9,559.4 L359.4,562.3 L359.9,565.3 L360.5,568.2 L361.0,571.2 L361.6,574.1 L362.1,577.1 L362.6,580.0 L363.2,583.0 L363.7,585.9 L364.3,588.9 L364.8,591.8 L365.4,594.8 L365.9,597.7 L366.5,600.7 L367.0,603.6 L367.6,606.6 L368.1,609.5 L368.6,612.5 L369.2,615.4 L369.7,618.4 L370.3,621.3 L370.8,624.3 L371.3,627.2 L371.9,630.2 L372.4,633.1 L373.0,636.1 L373.5,639.0 L374.0,642.0 L374.6,644.9 L375.1,647.9 L375.7,650.9 L376.3,653.8 L376.8,656.7 L377.4,659.7 L378.0,662.6 L378.6,665.6 L379.1,668.5 L379.7,671.5 L380.3,674.4 L381.0,677.3 L381.6,680.3 L382.2,683.2 L382.8,686.1 L383.5,689.0 L384.1,692.0 L384.8,694.9 L385.5,697.8 L386.2,700.7 L386.9,703.6 L387.5,706.6 L388.3,709.5 L389.0,712.4 L389.7,715.3 L390.4,718.2 L391.2,721.1 L391.9,724.0 L392.6,727.0 L393.4,729.9 L394.2,732.8 L395.0,735.7 L395.7,738.6 L396.5,741.5 L397.3,744.4 L398.1,747.3 L398.9,750.1 L399.8,753.0 L400.6,755.9 L401.4,758.8 L402.3,761.7 L403.1,764.6 L404.0,767.4 L404.8,770.3 L405.7,773.2 L406.6,776.0 L407.5,778.9 L408.5,781.7 L409.4,784.6 L410.4,787.4 L411.4,790.3 L412.4,793.1 L413.4,795.9 L414.4,798.7 L415.4,801.5 L416.5,804.3 L417.6,807.1 L418.7,809.9 L419.8,812.7 L420.9,815.5 L422.0,818.3 L423.1,821.1 L424.2,823.9 L425.4,826.6 L426.5,829.4 L427.7,832.2 L428.9,834.9 L430.1,837.7 L431.3,840.4 L432.5,843.2 L433.7,845.9 L434.9,848.7 L436.1,851.4 L437.4,854.2 L438.6,856.9 L439.9,859.6 L441.2,862.3 L442.6,865.0 L443.9,867.7 L445.3,870.3 L446.8,872.9 L448.3,875.5 L449.9,878.1 L451.6,880.6 L453.3,883.1 L455.1,885.5 L456.9,887.9 L458.8,890.2 L460.8,892.4 L462.9,894.6 L465.0,896.7 L467.3,898.7 L469.6,900.6 L472.0,902.3 L474.5,904.0 L477.0,905.5 L479.7,906.9 L482.4,908.2 L485.1,909.4 L487.9,910.4 L490.8,911.3 L493.7,912.0 L496.6,912.7 L499.6,913.2 L502.6,913.5 L505.6,913.8 L508.6,913.9 L511.6,913.9 L514.6,913.8 L517.6,913.6 L520.5,913.3 L523.5,912.9 L526.5,912.4 L529.4,911.7 L532.3,911.0 L535.2,910.1 L538.0,909.2 L540.8,908.2 L543.6,907.0 L546.3,905.8 L549.0,904.5 L551.7,903.2 L554.4,901.7 L557.0,900.2 L559.6,898.7 L562.1,897.1 L564.7,895.5 L567.2,893.9 L569.7,892.2 L572.1,890.5 L574.6,888.8 L577.1,887.1 L579.5,885.4 L582.0,883.6 L584.4,881.9 L586.9,880.2 L589.3,878.4 L591.8,876.7 L594.3,875.0 L596.7,873.3 L599.2,871.6 L601.6,869.8 L604.1,868.1 L606.6,866.4 L609.0,864.6 L611.4,862.9 L613.9,861.1 L616.3,859.3 L618.6,857.5 L621.0,855.7 L623.3,853.8 L625.7,851.9 L628.0,850.0 L630.2,848.0 L632.5,846.1 L634.8,844.1 L637.1,842.2 L639.4,840.2 L641.6,838.3 L644.0,836.4 L646.3,834.5 L648.6,832.6 L651.0,830.8 L653.4,829.0 L655.8,827.2 L658.2,825.4 L660.6,823.6 L663.0,821.8 L665.5,820.1 L667.9,818.3 L670.3,816.6 L672.8,814.8 L675.2,813.1 L677.7,811.4 L680.2,809.7 L682.6,807.9 L685.1,806.2 L687.6,804.6 L690.1,802.9 L692.6,801.2 L695.2,799.6 L697.7,798.0 L700.3,796.5 L702.9,795.0 L705.5,793.5 L708.1,792.1 L710.8,790.7 L713.5,789.4 L716.2,788.2 L719.0,787.1 L721.8,785.9 L724.6,784.9 L727.4,783.9 L730.3,783.0 L733.1,782.1 L736.0,781.3 L738.9,780.5 L741.9,779.8 L744.8,779.2 L747.7,778.6 L750.7,778.0 L753.6,777.5 L756.6,777.1 L759.6,776.7 L762.6,776.4 L765.6,776.1 L768.5,775.9 L771.5,775.7 L774.5,775.6 L777.5,775.4 L780.5,775.4 L783.5,775.3 L786.6,775.4 L789.6,775.4 L792.6,775.5 L795.6,775.6 L798.6,775.7 L801.5,775.9 L804.5,776.1 L807.5,776.4 L810.5,776.7 L813.5,777.1 L816.4,777.5 L819.4,778.0 L822.4,778.5 L825.3,779.0 L828.3,779.6 L831.2,780.3 L834.1,780.9 L837.0,781.6 L840.0,782.4 L842.9,783.1 L845.8,783.9 L848.7,784.8 L851.5,785.7 L854.4,786.6 L857.2,787.5 L860.1,788.5 L862.9,789.6 L865.6,790.7 L868.4,791.9 L871.1,793.1 L873.8,794.5 L876.5,795.8 L879.1,797.3 L881.7,798.8 L884.2,800.3 L886.8,802.0 L889.3,803.6 L891.7,805.4 L894.1,807.1 L896.5,808.9 L898.9,810.8 L901.2,812.7 L903.6,814.6 L905.9,816.5 L908.2,818.4 L910.4,820.4 L912.7,822.4 L915.0,824.4 L917.2,826.3 L919.5,828.3 L921.7,830.3 L924.0,832.3 L926.2,834.4 L928.4,836.4 L930.5,838.5 L932.7,840.6 L934.8,842.6 L937.0,844.8 L939.1,846.9 L941.2,849.0 L943.3,851.2 L945.3,853.4 L947.4,855.6 L949.4,857.7 L951.5,859.9 L953.5,862.1 L955.6,864.3 L957.6,866.5 L959.7,868.7 L961.8,870.9 L963.8,873.0 L965.9,875.2 L968.0,877.4 L970.0,879.6 L972.1,881.7 L974.2,883.9 L976.3,886.0 L978.4,888.2 L980.5,890.4 L982.6,892.5 L984.6,894.7 L986.7,896.8 L988.8,899.0 L990.9,901.2 L992.9,903.4 L994.9,905.6 L997.0,907.8 L998.9,910.0 L1000.9,912.3 L1002.8,914.6 L1004.7,916.9 L1006.6,919.2 L1008.5,921.6 L1010.4,923.9 L1012.2,926.3 L1014.1,928.6 L1015.9,931.0 L1017.8,933.4 L1019.6,935.7 L1021.5,938.1 L1023.4,940.4 L1025.3,942.7 L1027.2,945.1 L1029.1,947.4 L1031.0,949.7 L1032.9,952.0 L1034.8,954.3 L1036.8,956.6 L1038.7,958.9 L1040.6,961.2 L1042.5,963.5 L1044.4,965.9 L1046.2,968.2 L1048.1,970.6 L1050.0,972.9 L1051.8,975.3 L1053.7,977.6 L1055.5,980.0 L1057.3,982.4 L1059.1,984.8 L1061.0,987.2 L1062.8,989.5 L1064.6,991.9 L1066.5,994.3 L1068.3,996.7 L1070.2,999.0 L1072.0,1001.4 L1073.9,1003.8 L1075.7,1006.1 L1077.6,1008.4 L1079.5,1010.8 L1081.4,1013.1 L1083.4,1015.4 L1085.3,1017.6 L1087.3,1019.9 L1089.3,1022.1 L1091.4,1024.3 L1093.4,1026.5 L1095.5,1028.6 L1097.6,1030.7 L1099.8,1032.8 L1101.9,1034.9 L1104.1,1037.0 L1106.3,1039.1 L1108.4,1041.1 L1110.6,1043.2 L1112.8,1045.3 L1115.0,1047.4 L1117.1,1049.4 L1119.3,1051.5 L1121.5,1053.6 L1123.6,1055.7 L1125.8,1057.7 L1127.9,1059.8 L1130.1,1061.9 L1132.3,1064.0 L1134.4,1066.0 L1136.6,1068.1 L1138.8,1070.2 L1141.0,1072.2 L1143.2,1074.3 L1145.3,1076.4 L1147.5,1078.4 L1149.7,1080.5 L1151.9,1082.5 L1154.1,1084.6 L1156.2,1086.7 L1158.4,1088.8 L1160.5,1090.9 L1162.6,1093.0 L1164.7,1095.1 L1166.8,1097.3 L1168.9,1099.4 L1171.0,1101.6 L1173.1,1103.8 L1175.1,1106.0 L1177.2,1108.1 L1179.2,1110.3 L1181.3,1112.5 L1183.4,1114.6 L1185.5,1116.8 L1187.6,1118.9 L1189.7,1121.0 L1191.9,1123.2 L1194.0,1125.3 L1196.2,1127.3 L1198.3,1129.4 L1200.5,1131.5 L1202.7,1133.5 L1204.9,1135.6 L1207.1,1137.6 L1209.4,1139.6 L1211.6,1141.6 L1213.8,1143.6 L1216.1,1145.5 L1218.4,1147.5 L1220.7,1149.4 L1223.0,1151.4 L1225.3,1153.3 L1227.6,1155.2 L1229.9,1157.1 L1232.3,1158.9 L1234.6,1160.8 L1237.0,1162.6 L1239.4,1164.4 L1241.8,1166.3 L1244.2,1168.1 L1246.6,1169.8 L1249.0,1171.6 L1251.4,1173.4 L1253.8,1175.2 L1256.3,1176.9 L1258.7,1178.7 L1261.2,1180.4 L1263.6,1182.2 L1266.1,1183.9 L1268.5,1185.6 L1271.0,1187.3 L1273.5,1189.0 L1276.0,1190.6 L1278.5,1192.2 L1281.1,1193.8 L1283.6,1195.4 L1286.2,1196.9 L1288.8,1198.4 L1291.5,1199.8 L1294.1,1201.2 L1296.8,1202.6 L1299.4,1204.0 L1302.1,1205.3 L1304.8,1206.6 L1307.5,1207.9 L1310.3,1209.2 L1313.0,1210.4 L1315.7,1211.6 L1318.5,1212.8 L1321.2,1214.0 L1324.0,1215.2 L1326.8,1216.4 L1329.5,1217.5 L1332.3,1218.6 L1335.1,1219.7 L1337.9,1220.8 L1340.7,1221.9 L1343.5,1223.0 L1346.3,1224.1 L1349.1,1225.1 L1351.9,1226.2 L1354.7,1227.2 L1357.6,1228.2 L1360.4,1229.3 L1363.2,1230.3 L1366.0,1231.3 L1368.8,1232.3 L1371.7,1233.3 L1374.5,1234.3 L1377.4,1235.3 L1380.2,1236.2 L1383.0,1237.2 L1385.9,1238.1 L1388.7,1239.0 L1391.6,1239.9 L1394.5,1240.8 L1397.4,1241.7 L1400.2,1242.5 L1403.1,1243.2 L1406.0,1244.0 L1409.0,1244.7 L1411.9,1245.4 L1414.8,1246.0 L1417.7,1246.6 L1420.7,1247.2 L1423.6,1247.8 L1426.6,1248.3 L1429.6,1248.8 L1432.5,1249.3 L1435.5,1249.8 L1438.4,1250.2 L1441.4,1250.7 L1444.4,1251.1 L1447.4,1251.5 L1450.3,1251.8 L1453.3,1252.2 L1456.3,1252.6 L1459.3,1252.9 L1462.3,1253.2 L1465.2,1253.5 L1468.2,1253.8 L1471.2,1254.1 L1474.2,1254.3 L1477.2,1254.6 L1480.2,1254.8 L1483.2,1255.0 L1486.2,1255.3 L1489.2,1255.5 L1492.2,1255.7 L1495.1,1255.9 L1498.1,1256.0 L1501.1,1256.2 L1504.1,1256.4 L1507.1,1256.5 L1510.1,1256.7 L1513.1,1256.8 L1516.1,1257.0 L1519.1,1257.1 L1522.1,1257.2 L1525.1,1257.3 L1528.1,1257.4 L1531.1,1257.5 L1534.1,1257.6 L1537.1,1257.7 L1540.1,1257.8 L1543.1,1257.9 L1546.1,1258.0 L1549.1,1258.1 L1552.1,1258.1 L1555.1,1258.2 L1558.1,1258.3 L1561.2,1258.3 L1564.2,1258.4 L1567.2,1258.4 L1570.2,1258.4 L1573.2,1258.5 L1576.2,1258.5 L1579.1,1258.5 L1582.0,1258.5 L1584.9,1258.6 L1587.7,1258.6 L1590.5,1258.6 L1593.2,1258.6 L1595.8,1258.6 L1598.5,1258.6"/>
</g>
<line x1="1600" y1="1259.8" x2="2032.6" y2="1259.8" stroke="#000" stroke-width="3"/>
<g id="arrows">
<line x1="829.7" y1="641.7" x2="1102.8" y2="641.7" stroke="#141414" stroke-width="4.8"/><path d="M1160.3,641.7 L1093.8,624.4000000000001 L1100.8,638.7 L1100.8,644.7 L1093.8,659.0 Z" fill="#000"/>
<line x1="936.3" y1="750.6" x2="1071.6" y2="750.6" stroke="#808080" stroke-width="2.8"/><line x1="934.3" y1="747.6" x2="1071.6" y2="747.6" stroke="#000" stroke-width="3.5"/><path d="M1132.6,748.2 L1062.6,730.9000000000001 L1069.6,745.2 L1069.6,751.2 L1062.6,765.5 Z" fill="#000"/>
<line x1="511.7" y1="843.4" x2="1069.3" y2="843.4" stroke="#808080" stroke-width="2.8"/><line x1="509.7" y1="840.4" x2="1069.3" y2="840.4" stroke="#000" stroke-width="3.5"/><path d="M1129.3,841 L1060.3,823.7 L1067.3,838 L1067.3,844 L1060.3,858.3 Z" fill="#000"/>
<line x1="583.4" y1="934" x2="1141.6" y2="934" stroke="#141414" stroke-width="4.8"/><path d="M1200.6,934 L1132.6,916.7 L1139.6,931 L1139.6,937 L1132.6,951.3 Z" fill="#000"/>
<line x1="1166.6" y1="1024.5" x2="1301.7" y2="1024.5" stroke="#808080" stroke-width="2.8"/><line x1="1164.6" y1="1027.5" x2="1301.7" y2="1027.5" stroke="#000" stroke-width="3.5"/><path d="M1362.2,1026.9 L1292.7,1009.6000000000001 L1299.7,1023.9000000000001 L1299.7,1029.9 L1292.7,1044.2 Z" fill="#000"/>
</g>
<text transform="translate(166.52,104.01) scale(0.9834,1.0374)" font-size="84">1.0</text>
<text transform="translate(163.62,340.01) scale(1.0149,1.0374)" font-size="84">0.8</text>
<text transform="translate(163.62,577.21) scale(1.0149,1.0374)" font-size="84">0.6</text>
<text transform="translate(163.66,813.41) scale(1.0027,1.0374)" font-size="84">0.4</text>
<text transform="translate(163.61,1050.61) scale(1.0180,1.0374)" font-size="84">0.2</text>
<text transform="translate(163.64,1288.31) scale(1.0088,1.0374)" font-size="84">0.0</text>
<text transform="translate(270.16,1394.71) scale(1.0025,1.0425)" font-size="84">300</text>
<text transform="translate(692.58,1394.71) scale(0.9965,1.0425)" font-size="84">350</text>
<text transform="translate(1113.01,1394.71) scale(1.0185,1.0425)" font-size="84">400</text>
<text transform="translate(1536.03,1394.71) scale(1.0111,1.0425)" font-size="84">450</text>
<text transform="translate(1960.08,1394.71) scale(0.9965,1.0425)" font-size="84">500</text>
<text transform="translate(878.26,1532.30) scale(1.0104,1.0350)" font-size="84">Wavelength(nm)</text>
<text transform="translate(107.40,892.74) rotate(-90) scale(1.0060,1.0300)" font-size="84">Absorbance</text>
<text transform="translate(1172.46,663.70) scale(0.9559,1.0073)" font-size="66" font-weight="bold">L</text>
<text transform="translate(1140.27,771.91) scale(0.9898,1.0340)" font-size="66">AcO</text>
<text transform="translate(1267.06,754.50) scale(1.2812,1.0400)" font-size="66">-</text>
<text transform="translate(1141.72,865.00) scale(0.9711,1.0478)" font-size="66">F</text>
<text transform="translate(1186.79,847.30) scale(1.1688,1.1200)" font-size="66">-</text>
<text transform="translate(1204.31,954.00) scale(1.0108,1.0390)" font-size="66">H</text>
<text transform="translate(1246.53,981.00) scale(1.0700,1.0187)" font-size="66">2</text>
<text transform="translate(1283.66,954.08) scale(1.0004,1.0830)" font-size="66">PO</text>
<text transform="translate(1363.46,986.90) scale(1.0424,1.0314)" font-size="66">4</text>
<text transform="translate(1382.84,935.20) scale(1.1187,1.0400)" font-size="66">-</text>
<text transform="translate(1365.88,1047.30) scale(0.9971,1.0511)" font-size="66">HCO</text>
<text transform="translate(1509.99,1074.42) scale(0.9419,1.0234)" font-size="66">3</text>
<text transform="translate(1515.14,1028.70) scale(1.1188,1.0400)" font-size="66">-</text>
</g>
</svg></body></html>
